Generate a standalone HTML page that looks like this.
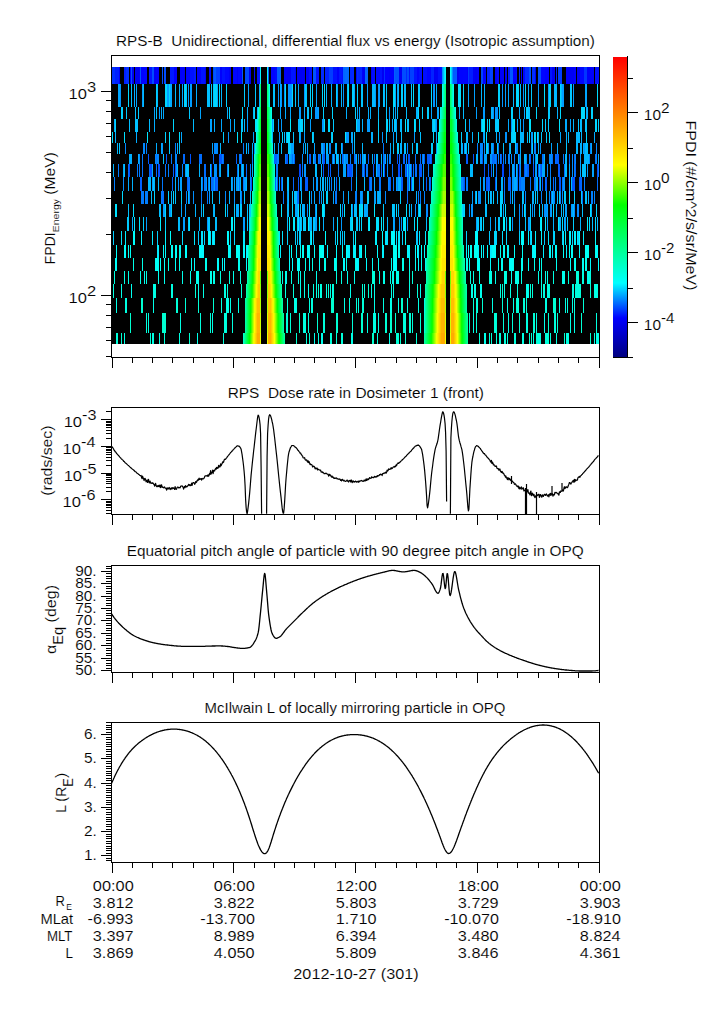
<!DOCTYPE html>
<html><head><meta charset="utf-8"><style>html,body{margin:0;padding:0;background:#fff;overflow:hidden}svg{display:block}text{font-family:"Liberation Sans",sans-serif}</style></head>
<body><svg width="725" height="1019" viewBox="0 0 725 1019">
<defs><linearGradient id="cb" x1="0" y1="57" x2="0" y2="357" gradientUnits="userSpaceOnUse"><stop offset="0.0000" stop-color="#ff0000"/><stop offset="0.1833" stop-color="#ff8000"/><stop offset="0.3600" stop-color="#ffff00"/><stop offset="0.4933" stop-color="#00ff00"/><stop offset="0.7533" stop-color="#00ffff"/><stop offset="0.8700" stop-color="#0000ff"/><stop offset="1.0000" stop-color="#000080"/></linearGradient></defs>
<rect width="725" height="1019" fill="#fff"/>
<g shape-rendering="crispEdges"><rect x="112" y="67" width="487" height="277" fill="#000"/>
<path fill="#0030ff" d="M112 67h3v17h-3z"/>
<path fill="#001fff" d="M115 67h4v17h-4zM124 67h2v17h-2zM325 67h4v17h-4z"/>
<path fill="#0000f9" d="M119 67h1v17h-1zM237 67h1v17h-1zM306 67h1v17h-1zM362 67h1v17h-1zM389 67h1v17h-1zM467 67h1v17h-1zM535 67h1v17h-1z"/>
<path fill="#002fff" d="M126 67h3v17h-3zM532 67h3v17h-3z"/>
<path fill="#0000ff" d="M130 67h1v17h-1zM385 67h4v17h-4zM545 67h4v17h-4zM574 67h2v17h-2z"/>
<path fill="#004fff" d="M131 67h1v17h-1zM175 164h1v13h-1zM384 164h1v13h-1z"/>
<path fill="#0000f1" d="M132 67h2v17h-2zM184 67h1v17h-1zM249 67h2v17h-2zM457 67h2v17h-2z"/>
<path fill="#0000f0" d="M135 67h4v17h-4z"/>
<path fill="#0000f8" d="M139 67h1v17h-1zM284 67h3v17h-3zM473 67h2v17h-2zM495 67h2v17h-2zM500 67h4v17h-4zM566 67h4v17h-4zM577 67h3v17h-3z"/>
<path fill="#0050ff" d="M140 67h1v17h-1z"/>
<path fill="#0002ff" d="M141 67h3v17h-3zM295 67h1v17h-1zM417 67h2v17h-2zM483 67h3v17h-3z"/>
<path fill="#0005ff" d="M144 67h3v17h-3zM187 67h3v17h-3zM254 67h1v17h-1z"/>
<path fill="#0013ff" d="M149 67h3v17h-3zM222 67h3v17h-3zM257 67h3v17h-3zM441 67h1v17h-1z"/>
<path fill="#004cff" d="M152 67h2v17h-2zM347 164h1v13h-1zM349 164h1v13h-1zM364 164h1v13h-1z"/>
<path fill="#0000f5" d="M154 67h2v17h-2zM371 67h1v17h-1zM399 67h3v17h-3z"/>
<path fill="#0000fc" d="M156 67h3v17h-3zM174 67h3v17h-3zM197 67h4v17h-4zM241 67h1v17h-1z"/>
<path fill="#0052ff" d="M162 67h1v17h-1zM529 67h2v17h-2zM369 177h1v14h-1z"/>
<path fill="#004bff" d="M164 67h2v17h-2zM407 67h2v17h-2zM150 164h2v13h-2zM406 164h1v13h-1zM597 164h1v13h-1z"/>
<path fill="#0018ff" d="M170 67h4v17h-4z"/>
<path fill="#0000fa" d="M180 67h4v17h-4zM209 67h2v17h-2z"/>
<path fill="#0001ff" d="M186 67h1v17h-1z"/>
<path fill="#0010ff" d="M190 67h4v17h-4zM316 67h3v17h-3zM333 67h4v17h-4z"/>
<path fill="#001bff" d="M194 67h2v17h-2z"/>
<path fill="#0012ff" d="M201 67h4v17h-4zM380 67h2v17h-2zM409 67h1v17h-1z"/>
<path fill="#0000f7" d="M205 67h1v17h-1z"/>
<path fill="#0046ff" d="M213 67h1v17h-1zM502 164h2v13h-2z"/>
<path fill="#0058ff" d="M214 67h2v17h-2zM510 67h3v17h-3zM424 154h1v10h-1zM487 177h1v14h-1zM495 177h1v14h-1z"/>
<path fill="#003eff" d="M216 67h4v17h-4zM558 67h4v17h-4z"/>
<path fill="#0000fd" d="M220 67h2v17h-2zM307 67h2v17h-2zM513 67h3v17h-3zM521 67h1v17h-1z"/>
<path fill="#0007ff" d="M225 67h4v17h-4zM238 67h3v17h-3zM376 67h4v17h-4zM497 67h2v17h-2zM523 67h2v17h-2zM580 67h4v17h-4z"/>
<path fill="#0000f6" d="M229 67h2v17h-2zM435 67h3v17h-3zM505 67h2v17h-2z"/>
<path fill="#0006ff" d="M233 67h4v17h-4z"/>
<path fill="#0057ff" d="M242 67h1v17h-1zM482 154h1v10h-1zM419 164h3v13h-3z"/>
<path fill="#0047ff" d="M245 67h4v17h-4zM299 164h2v13h-2z"/>
<path fill="#00f8ff" d="M260 67h1v17h-1zM267 67h1v17h-1zM574 231h1v14h-1zM229 245h2v13h-2zM356 258h3v13h-3z"/>
<path fill="#005cff" d="M268 67h1v17h-1zM277 67h3v17h-3zM294 154h1v10h-1zM305 177h3v14h-3zM426 177h1v14h-1z"/>
<path fill="#0004ff" d="M271 67h4v17h-4zM356 67h1v17h-1zM463 67h4v17h-4zM541 67h4v17h-4z"/>
<path fill="#0009ff" d="M275 67h2v17h-2z"/>
<path fill="#0063ff" d="M280 67h1v17h-1zM241 154h1v10h-1zM368 154h1v10h-1zM330 164h1v13h-1zM491 164h1v13h-1zM408 177h1v14h-1zM419 177h1v14h-1z"/>
<path fill="#0000f3" d="M287 67h4v17h-4zM297 67h5v17h-5zM552 67h3v17h-3z"/>
<path fill="#0014ff" d="M291 67h4v17h-4zM414 67h3v17h-3z"/>
<path fill="#0000f4" d="M302 67h3v17h-3zM382 67h2v17h-2zM570 67h4v17h-4z"/>
<path fill="#000dff" d="M309 67h3v17h-3zM342 67h1v17h-1zM423 67h4v17h-4z"/>
<path fill="#0053ff" d="M313 67h3v17h-3zM395 67h4v17h-4zM397 154h1v10h-1zM484 164h1v13h-1zM559 177h2v14h-2z"/>
<path fill="#0029ff" d="M321 67h3v17h-3z"/>
<path fill="#003dff" d="M329 67h4v17h-4z"/>
<path fill="#0000fb" d="M337 67h2v17h-2zM587 67h7v17h-7z"/>
<path fill="#0015ff" d="M339 67h3v17h-3zM550 67h2v17h-2z"/>
<path fill="#0065ff" d="M343 67h2v17h-2zM365 67h3v17h-3zM276 154h1v10h-1zM319 154h1v10h-1zM216 177h2v14h-2z"/>
<path fill="#006bff" d="M345 67h4v17h-4zM374 154h1v10h-1zM496 154h1v10h-1zM362 164h1v13h-1z"/>
<path fill="#0028ff" d="M350 67h4v17h-4z"/>
<path fill="#002eff" d="M357 67h1v17h-1z"/>
<path fill="#0024ff" d="M358 67h4v17h-4z"/>
<path fill="#0000f2" d="M363 67h2v17h-2zM434 67h1v17h-1zM475 67h2v17h-2z"/>
<path fill="#000aff" d="M372 67h3v17h-3z"/>
<path fill="#0031ff" d="M384 67h1v17h-1z"/>
<path fill="#0000fe" d="M390 67h4v17h-4zM477 67h2v17h-2z"/>
<path fill="#005eff" d="M394 67h1v17h-1zM542 177h1v14h-1zM546 177h1v14h-1z"/>
<path fill="#004dff" d="M402 67h4v17h-4zM129 164h1v13h-1zM398 164h2v13h-2z"/>
<path fill="#002bff" d="M406 67h1v17h-1zM525 67h4v17h-4z"/>
<path fill="#0040ff" d="M410 67h4v17h-4z"/>
<path fill="#000eff" d="M419 67h3v17h-3zM595 67h4v17h-4z"/>
<path fill="#0003ff" d="M427 67h4v17h-4zM459 67h4v17h-4z"/>
<path fill="#0022ff" d="M431 67h3v17h-3z"/>
<path fill="#000fff" d="M438 67h3v17h-3z"/>
<path fill="#0092ff" d="M442 67h1v17h-1zM452 67h1v17h-1zM284 84h1v23h-1zM493 107h1v12h-1zM234 191h1v13h-1zM360 191h1v13h-1z"/>
<path fill="#00bcff" d="M443 67h1v17h-1zM520 84h1v23h-1zM253 107h1v12h-1zM193 119h1v13h-1zM580 119h2v13h-2zM272 132h1v11h-1zM520 132h1v11h-1zM335 143h2v11h-2zM186 164h3v13h-3zM240 177h1v14h-1zM571 177h1v14h-1zM287 204h2v13h-2zM354 204h3v13h-3zM394 204h1v13h-1zM215 217h2v14h-2zM301 217h1v14h-1z"/>
<path fill="#00e7ff" d="M444 67h1v17h-1zM414 119h1v13h-1zM489 119h1v13h-1zM419 231h1v14h-1z"/>
<path fill="#00fff7" d="M445 67h1v17h-1zM450 67h1v17h-1zM128 245h1v13h-1zM314 245h1v13h-1zM503 245h1v13h-1zM595 245h2v13h-2zM297 258h2v13h-2zM372 258h1v13h-1zM501 258h2v13h-2zM582 258h1v13h-1z"/>
<path fill="#00d1ff" d="M451 67h1v17h-1zM498 84h1v23h-1zM355 107h1v12h-1zM591 107h2v12h-2zM378 119h1v13h-1zM419 119h1v13h-1zM165 132h1v11h-1zM532 143h1v11h-1zM181 191h1v13h-1zM249 217h1v14h-1zM299 231h2v14h-2zM519 231h1v14h-1z"/>
<path fill="#005bff" d="M453 67h4v17h-4zM488 164h1v13h-1zM509 164h1v13h-1zM538 164h1v13h-1zM558 164h2v13h-2z"/>
<path fill="#003aff" d="M468 67h1v17h-1z"/>
<path fill="#001cff" d="M469 67h4v17h-4z"/>
<path fill="#0043ff" d="M481 67h2v17h-2z"/>
<path fill="#0023ff" d="M487 67h3v17h-3z"/>
<path fill="#0041ff" d="M490 67h3v17h-3z"/>
<path fill="#001aff" d="M508 67h2v17h-2zM556 67h1v17h-1z"/>
<path fill="#0008ff" d="M516 67h1v17h-1z"/>
<path fill="#0021ff" d="M519 67h1v17h-1z"/>
<path fill="#004eff" d="M538 67h3v17h-3zM211 164h1v13h-1zM533 164h1v13h-1z"/>
<path fill="#0035ff" d="M584 67h3v17h-3z"/>
<path fill="#00a6ff" d="M118 84h2v23h-2zM136 84h1v23h-1zM298 84h1v23h-1zM395 107h1v12h-1zM221 119h1v13h-1zM491 143h2v11h-2zM598 154h1v10h-1z"/>
<path fill="#0097ff" d="M120 84h1v23h-1zM304 84h1v23h-1zM502 84h1v23h-1zM315 107h3v12h-3zM346 132h2v11h-2zM162 143h1v11h-1zM423 154h1v10h-1zM206 177h1v14h-1zM399 217h1v14h-1z"/>
<path fill="#00d5ff" d="M128 84h1v23h-1zM463 84h1v23h-1zM595 119h2v13h-2zM154 191h1v13h-1zM173 191h1v13h-1zM535 191h1v13h-1zM305 217h1v14h-1zM337 217h1v14h-1zM230 231h1v14h-1zM562 231h1v14h-1z"/>
<path fill="#00bfff" d="M131 84h1v23h-1zM528 107h2v12h-2zM518 154h1v10h-1zM210 164h1v13h-1zM409 177h1v14h-1zM175 191h1v13h-1zM159 204h2v13h-2zM480 217h1v14h-1z"/>
<path fill="#00aeff" d="M134 84h1v23h-1zM436 84h1v23h-1zM304 107h1v12h-1zM371 132h2v11h-2zM129 154h3v10h-3zM325 177h1v14h-1zM423 177h1v14h-1zM501 177h2v14h-2z"/>
<path fill="#009dff" d="M142 84h1v23h-1zM310 119h1v13h-1zM300 132h1v11h-1zM531 132h2v11h-2zM326 154h3v10h-3zM472 191h1v13h-1zM170 204h1v13h-1z"/>
<path fill="#00bdff" d="M143 84h1v23h-1zM244 119h1v13h-1zM298 119h2v13h-2zM401 119h1v13h-1zM246 143h1v11h-1zM461 143h1v11h-1zM364 154h1v10h-1zM246 177h1v14h-1zM288 191h1v13h-1zM301 191h1v13h-1zM490 191h1v13h-1zM178 217h2v14h-2zM506 217h1v14h-1z"/>
<path fill="#00d0ff" d="M156 84h1v23h-1zM226 84h1v23h-1zM336 84h1v23h-1zM121 107h2v12h-2zM323 107h1v12h-1zM598 119h1v13h-1zM461 132h1v11h-1zM465 143h1v11h-1zM486 143h2v11h-2zM400 191h1v13h-1zM488 191h1v13h-1zM247 217h1v14h-1zM573 217h1v14h-1zM287 231h1v14h-1zM295 231h1v14h-1zM530 231h1v14h-1z"/>
<path fill="#00bbff" d="M157 84h1v23h-1zM404 84h2v23h-2zM561 84h1v23h-1zM397 107h1v12h-1zM149 119h1v13h-1zM481 119h1v13h-1zM286 132h1v11h-1zM588 154h1v10h-1zM238 164h1v13h-1zM321 164h1v13h-1zM322 177h1v14h-1zM569 177h1v14h-1zM302 204h1v13h-1zM398 204h1v13h-1zM287 217h1v14h-1z"/>
<path fill="#00d8ff" d="M165 84h2v23h-2zM219 84h1v23h-1zM516 84h3v23h-3zM332 132h1v11h-1zM564 191h1v13h-1zM351 204h1v13h-1zM464 204h1v13h-1zM361 217h1v14h-1zM595 217h1v14h-1zM353 231h1v14h-1z"/>
<path fill="#00a5ff" d="M167 84h2v23h-2zM508 84h1v23h-1zM212 143h1v11h-1zM338 154h1v10h-1zM480 177h1v14h-1zM333 191h1v13h-1zM181 204h1v13h-1zM547 204h1v13h-1zM566 204h1v13h-1z"/>
<path fill="#00d7ff" d="M169 84h1v23h-1zM214 84h3v23h-3zM292 84h1v23h-1zM525 84h1v23h-1zM422 107h1v12h-1zM300 119h1v13h-1zM386 119h2v13h-2zM433 132h1v11h-1z"/>
<path fill="#00abff" d="M170 84h2v23h-2zM196 84h1v23h-1zM217 84h1v23h-1zM280 84h1v23h-1zM354 84h1v23h-1zM136 132h1v11h-1zM385 154h1v10h-1zM514 177h3v14h-3zM491 191h1v13h-1zM303 204h2v13h-2zM311 217h1v14h-1z"/>
<path fill="#00b7ff" d="M175 84h1v23h-1zM381 154h1v10h-1zM585 154h3v10h-3zM539 164h1v13h-1zM209 177h1v14h-1zM309 217h2v14h-2z"/>
<path fill="#00adff" d="M179 84h1v23h-1zM161 107h1v12h-1zM566 132h1v11h-1zM156 143h1v11h-1zM307 154h1v10h-1zM410 164h1v13h-1zM379 191h2v13h-2z"/>
<path fill="#00aaff" d="M182 84h1v23h-1zM357 107h1v12h-1zM508 119h1v13h-1zM517 119h1v13h-1zM565 119h2v13h-2zM594 132h1v11h-1zM252 143h1v11h-1zM322 143h1v11h-1zM557 143h1v11h-1zM138 154h1v10h-1zM152 164h1v13h-1zM227 204h1v13h-1zM295 204h3v13h-3z"/>
<path fill="#00d4ff" d="M184 84h2v23h-2zM312 84h1v23h-1zM229 107h1v12h-1zM511 107h2v12h-2zM301 119h2v13h-2zM312 132h1v11h-1zM513 132h3v11h-3zM168 191h1v13h-1zM326 191h2v13h-2zM367 191h1v13h-1zM493 191h1v13h-1zM596 204h1v13h-1zM303 217h1v14h-1zM204 231h1v14h-1z"/>
<path fill="#00c4ff" d="M186 84h1v23h-1zM347 84h1v23h-1zM126 107h1v12h-1zM156 107h1v12h-1zM257 107h1v12h-1zM585 119h2v13h-2zM354 132h1v11h-1zM393 143h1v11h-1zM566 143h1v11h-1zM163 154h1v10h-1zM383 164h1v13h-1zM582 164h2v13h-2zM153 177h1v14h-1zM412 177h2v14h-2zM250 191h1v13h-1zM565 191h1v13h-1z"/>
<path fill="#009cff" d="M188 84h1v23h-1zM190 84h2v23h-2zM375 84h1v23h-1zM538 84h1v23h-1zM299 107h2v12h-2zM278 119h1v13h-1zM304 132h1v11h-1zM303 143h1v11h-1zM483 177h2v14h-2zM550 177h1v14h-1zM287 191h1v13h-1zM361 191h1v13h-1zM183 217h2v14h-2zM243 217h1v14h-1zM299 217h1v14h-1z"/>
<path fill="#00c0ff" d="M207 84h3v23h-3zM273 84h2v23h-2zM299 132h1v11h-1zM420 132h1v11h-1zM404 143h2v11h-2zM151 191h1v13h-1z"/>
<path fill="#00c8ff" d="M211 84h1v23h-1zM570 84h2v23h-2zM241 119h2v13h-2zM394 119h2v13h-2zM331 132h1v11h-1zM316 204h1v13h-1zM188 217h1v14h-1zM313 217h2v14h-2zM525 217h1v14h-1zM567 217h1v14h-1zM297 231h1v14h-1z"/>
<path fill="#00c7ff" d="M213 84h1v23h-1zM255 84h1v23h-1zM305 84h2v23h-2zM531 84h1v23h-1zM189 107h1v12h-1zM386 107h1v12h-1zM545 119h1v13h-1zM548 119h1v13h-1zM412 143h1v11h-1zM530 204h1v13h-1zM208 217h2v14h-2zM198 231h1v14h-1zM416 231h2v14h-2z"/>
<path fill="#00b5ff" d="M221 84h1v23h-1zM384 84h1v23h-1zM481 84h1v23h-1zM396 132h1v11h-1zM581 132h1v11h-1zM372 154h1v10h-1zM199 164h1v13h-1zM376 164h1v13h-1zM158 177h1v14h-1zM378 191h1v13h-1zM537 191h1v13h-1z"/>
<path fill="#00cbff" d="M244 84h1v23h-1zM431 143h2v11h-2zM171 204h1v13h-1zM240 204h2v13h-2zM127 217h2v14h-2zM297 217h1v14h-1zM342 231h1v14h-1z"/>
<path fill="#00a4ff" d="M248 84h1v23h-1zM585 84h1v23h-1zM200 107h1v12h-1zM230 119h1v13h-1zM436 132h1v11h-1zM314 143h1v11h-1zM343 164h3v13h-3zM572 204h1v13h-1zM476 217h1v14h-1zM490 217h1v14h-1z"/>
<path fill="#00b1ff" d="M259 84h1v23h-1zM331 84h1v23h-1zM370 107h1v12h-1zM362 119h1v13h-1zM274 143h1v11h-1zM580 143h2v11h-2zM525 154h1v10h-1zM220 164h1v13h-1zM569 164h1v13h-1zM132 177h1v14h-1zM229 191h1v13h-1zM411 204h1v13h-1zM525 204h1v13h-1zM591 204h1v13h-1zM199 217h1v14h-1zM564 217h1v14h-1z"/>
<path fill="#00ff6e" d="M260 84h1v23h-1zM267 84h1v23h-1zM445 84h1v23h-1zM450 84h1v23h-1zM436 177h1v14h-1zM464 298h1v15h-1z"/>
<path fill="#00ffaf" d="M268 84h1v23h-1zM257 132h1v11h-1zM270 132h1v11h-1zM431 204h1v13h-1z"/>
<path fill="#00fff1" d="M269 84h1v23h-1zM442 84h1v23h-1zM453 84h1v23h-1zM179 245h1v13h-1zM319 245h3v13h-3zM238 258h2v13h-2zM421 258h1v13h-1zM556 258h1v13h-1zM575 258h1v13h-1zM131 284h1v14h-1z"/>
<path fill="#0094ff" d="M278 84h1v23h-1zM281 84h1v23h-1zM288 84h3v23h-3zM511 119h1v13h-1zM540 143h1v11h-1zM347 154h1v10h-1zM363 164h1v13h-1zM311 191h1v13h-1zM550 204h1v13h-1zM207 217h1v14h-1zM401 217h1v14h-1zM512 217h1v14h-1z"/>
<path fill="#00dbff" d="M285 84h1v23h-1zM348 84h1v23h-1zM478 132h1v11h-1zM310 231h1v14h-1z"/>
<path fill="#0099ff" d="M291 84h1v23h-1zM272 119h1v13h-1zM436 119h1v13h-1zM322 154h1v10h-1zM316 177h2v14h-2zM321 191h1v13h-1zM553 191h1v13h-1zM528 217h2v14h-2z"/>
<path fill="#00c5ff" d="M295 84h1v23h-1zM362 84h1v23h-1zM383 84h1v23h-1zM389 119h1v13h-1zM541 132h1v11h-1zM281 143h1v11h-1zM276 177h1v14h-1zM477 217h1v14h-1z"/>
<path fill="#00d3ff" d="M310 84h1v23h-1zM499 84h1v23h-1zM415 119h1v13h-1zM465 119h1v13h-1zM559 191h1v13h-1zM574 191h1v13h-1zM300 204h1v13h-1zM500 204h2v13h-2zM351 217h1v14h-1zM553 231h2v14h-2zM572 231h1v14h-1z"/>
<path fill="#00a1ff" d="M316 84h1v23h-1zM337 84h1v23h-1zM367 84h1v23h-1zM468 84h1v23h-1zM474 84h1v23h-1zM318 107h1v12h-1zM476 107h1v12h-1zM570 119h1v13h-1zM365 154h1v10h-1zM484 154h3v10h-3zM587 164h1v13h-1zM244 177h2v14h-2zM279 177h1v14h-1zM475 191h1v13h-1zM315 217h2v14h-2z"/>
<path fill="#00daff" d="M322 84h1v23h-1zM254 107h1v12h-1zM560 107h1v12h-1zM582 107h3v12h-3zM549 132h1v11h-1zM122 191h1v13h-1zM476 191h1v13h-1zM396 204h1v13h-1zM589 217h1v14h-1z"/>
<path fill="#00ddff" d="M324 84h1v23h-1zM458 84h3v23h-3zM282 132h1v11h-1zM569 191h1v13h-1zM225 204h1v13h-1zM340 204h1v13h-1zM182 231h1v14h-1zM396 231h1v14h-1z"/>
<path fill="#00b9ff" d="M326 84h1v23h-1zM372 84h3v23h-3zM378 107h1v12h-1zM484 132h1v11h-1zM326 143h2v11h-2zM356 154h1v10h-1zM524 154h1v10h-1zM470 164h3v13h-3zM556 204h1v13h-1zM561 204h1v13h-1z"/>
<path fill="#00b3ff" d="M341 84h1v23h-1zM484 84h1v23h-1zM557 107h1v12h-1zM586 107h2v12h-2zM520 119h1v13h-1zM472 132h1v11h-1zM496 132h1v11h-1zM521 132h3v11h-3zM544 154h1v10h-1zM493 164h1v13h-1zM238 177h1v14h-1zM300 177h1v14h-1zM334 177h1v14h-1zM219 191h1v13h-1zM546 191h1v13h-1zM213 204h1v13h-1zM323 217h1v14h-1zM495 217h1v14h-1zM580 217h1v14h-1z"/>
<path fill="#0093ff" d="M343 84h1v23h-1zM378 84h1v23h-1zM389 107h1v12h-1zM495 107h3v12h-3zM247 119h1v13h-1zM523 119h1v13h-1zM505 132h2v11h-2zM488 143h1v11h-1zM358 154h1v10h-1zM490 154h2v10h-2zM214 164h2v13h-2zM512 177h1v14h-1zM519 204h1v13h-1z"/>
<path fill="#00cfff" d="M352 84h2v23h-2zM357 84h1v23h-1zM401 84h2v23h-2zM304 119h1v13h-1zM323 191h1v13h-1zM203 204h1v13h-1zM359 217h1v14h-1zM157 231h1v14h-1zM578 231h1v14h-1z"/>
<path fill="#00c1ff" d="M361 84h1v23h-1zM135 107h1v12h-1zM135 119h3v13h-3zM432 119h1v13h-1zM313 132h1v11h-1zM341 143h1v11h-1zM536 154h2v10h-2zM409 204h1v13h-1zM582 204h1v13h-1zM592 217h1v14h-1z"/>
<path fill="#00a0ff" d="M379 84h1v23h-1zM548 84h1v23h-1zM592 164h2v13h-2zM180 177h2v14h-2z"/>
<path fill="#00c9ff" d="M386 84h1v23h-1zM418 84h2v23h-2zM495 119h3v13h-3zM386 132h1v11h-1zM119 143h1v11h-1zM288 143h3v11h-3zM512 191h1v13h-1zM522 191h1v13h-1zM234 204h1v13h-1zM392 204h2v13h-2z"/>
<path fill="#00deff" d="M393 84h2v23h-2zM413 84h1v23h-1zM431 84h1v23h-1zM544 84h1v23h-1zM324 119h1v13h-1zM309 191h1v13h-1zM502 231h1v14h-1z"/>
<path fill="#00a9ff" d="M395 84h1v23h-1zM285 107h1v12h-1zM123 164h1v13h-1zM282 177h1v14h-1zM240 191h1v13h-1zM314 191h1v13h-1zM503 204h1v13h-1zM534 204h1v13h-1z"/>
<path fill="#00a2ff" d="M397 84h1v23h-1zM210 119h2v13h-2zM278 143h1v11h-1zM551 143h1v11h-1zM320 154h1v10h-1zM163 204h2v13h-2z"/>
<path fill="#00b6ff" d="M398 84h1v23h-1zM513 84h1v23h-1zM573 119h1v13h-1zM284 132h1v11h-1zM117 143h1v11h-1zM576 143h2v11h-2zM313 154h1v10h-1zM584 154h1v10h-1zM177 164h1v13h-1zM339 177h1v14h-1zM536 177h1v14h-1zM485 191h1v13h-1zM523 191h1v13h-1z"/>
<path fill="#00ccff" d="M411 84h1v23h-1zM223 132h1v11h-1zM535 132h1v11h-1zM497 143h1v11h-1zM244 191h1v13h-1zM581 191h1v13h-1zM324 204h1v13h-1zM514 204h1v13h-1zM143 217h1v14h-1zM481 217h1v14h-1zM335 231h1v14h-1z"/>
<path fill="#0095ff" d="M433 84h2v23h-2zM279 132h1v11h-1zM499 132h1v11h-1zM363 154h1v10h-1zM304 164h2v13h-2zM209 191h1v13h-1zM522 204h1v13h-1z"/>
<path fill="#00ffc5" d="M443 84h1v23h-1zM452 84h1v23h-1zM250 217h1v14h-1zM277 217h1v14h-1zM429 217h1v14h-1zM462 217h1v14h-1z"/>
<path fill="#00ff99" d="M444 84h1v23h-1zM451 84h1v23h-1zM259 107h1v12h-1zM269 107h1v12h-1z"/>
<path fill="#009bff" d="M505 84h1v23h-1zM159 107h1v12h-1zM281 119h1v13h-1zM469 119h1v13h-1zM321 143h1v11h-1zM436 143h1v11h-1zM356 164h1v13h-1zM520 164h1v13h-1zM536 164h1v13h-1zM236 177h2v14h-2zM343 191h1v13h-1zM571 204h1v13h-1zM146 217h1v14h-1zM519 217h1v14h-1z"/>
<path fill="#0098ff" d="M523 84h1v23h-1zM348 132h1v11h-1zM382 132h1v11h-1zM254 143h1v11h-1zM329 143h1v11h-1zM584 143h1v11h-1zM176 164h1v13h-1zM185 164h1v13h-1zM241 164h1v13h-1zM423 164h1v13h-1zM471 204h2v13h-2z"/>
<path fill="#00afff" d="M528 84h1v23h-1zM346 107h1v12h-1zM368 107h1v12h-1zM114 119h1v13h-1zM392 119h1v13h-1zM538 132h1v11h-1zM466 143h1v11h-1zM520 143h1v11h-1zM583 143h1v11h-1zM344 154h1v10h-1zM362 154h1v10h-1zM327 177h1v14h-1zM496 177h1v14h-1zM588 191h1v13h-1zM169 204h1v13h-1zM201 204h1v13h-1z"/>
<path fill="#00d6ff" d="M549 84h2v23h-2zM560 84h1v23h-1zM332 107h1v12h-1zM536 107h1v12h-1zM115 119h1v13h-1zM173 119h1v13h-1zM273 119h1v13h-1zM433 119h2v13h-2zM487 119h1v13h-1zM512 119h2v13h-2zM542 119h1v13h-1zM586 132h1v11h-1zM292 191h1v13h-1zM234 231h1v14h-1zM494 231h3v14h-3z"/>
<path fill="#00b8ff" d="M554 84h3v23h-3zM568 132h1v11h-1zM576 132h3v11h-3zM362 143h1v11h-1zM565 154h2v10h-2zM148 177h3v14h-3zM418 204h1v13h-1zM387 217h1v14h-1z"/>
<path fill="#009fff" d="M562 84h2v23h-2zM573 84h1v23h-1zM253 132h1v11h-1zM393 132h1v11h-1zM293 154h1v10h-1zM580 154h1v10h-1zM214 177h1v14h-1zM234 177h1v14h-1zM547 217h1v14h-1zM565 217h1v14h-1z"/>
<path fill="#00a8ff" d="M586 84h1v23h-1zM290 107h1v12h-1zM437 107h2v12h-2zM459 107h1v12h-1zM524 107h1v12h-1zM181 132h1v11h-1zM351 132h2v11h-2zM161 143h1v11h-1zM307 143h1v11h-1zM462 143h1v11h-1zM340 154h1v10h-1zM128 177h1v14h-1zM377 191h1v13h-1zM393 217h1v14h-1z"/>
<path fill="#00dcff" d="M597 84h1v23h-1zM242 107h1v12h-1zM311 107h1v12h-1zM418 107h1v12h-1zM581 107h1v12h-1zM179 132h1v11h-1zM165 204h1v13h-1zM361 204h1v13h-1z"/>
<path fill="#00cdff" d="M138 107h1v12h-1zM378 132h1v11h-1zM515 143h1v11h-1zM500 191h3v13h-3zM249 204h2v13h-2zM165 217h1v14h-1zM466 231h1v14h-1z"/>
<path fill="#00a3ff" d="M154 107h1v12h-1zM359 107h1v12h-1zM431 107h1v12h-1zM291 143h3v11h-3zM290 154h1v10h-1zM243 164h1v13h-1zM396 177h1v14h-1zM375 191h1v13h-1zM551 204h1v13h-1zM565 204h1v13h-1z"/>
<path fill="#00a7ff" d="M163 107h1v12h-1zM280 107h1v12h-1zM357 119h3v13h-3zM560 132h1v11h-1zM390 143h1v11h-1zM512 164h2v13h-2zM542 164h3v13h-3zM580 164h1v13h-1zM365 204h3v13h-3zM333 217h1v14h-1z"/>
<path fill="#00b0ff" d="M227 107h1v12h-1zM115 132h1v11h-1zM252 164h1v13h-1zM409 164h1v13h-1zM154 177h1v14h-1zM201 177h1v14h-1zM398 177h3v14h-3zM348 191h1v13h-1z"/>
<path fill="#00acff" d="M247 107h1v12h-1zM519 107h1v12h-1zM154 119h1v13h-1zM214 119h1v13h-1zM396 119h1v13h-1zM591 143h1v11h-1zM236 204h3v13h-3zM364 204h1v13h-1zM132 217h1v14h-1z"/>
<path fill="#00ffed" d="M258 107h1v12h-1zM271 107h1v12h-1zM440 107h1v12h-1zM455 107h1v12h-1zM325 258h1v13h-1zM158 271h1v13h-1zM316 271h1v13h-1zM347 271h1v13h-1zM541 271h1v13h-1zM564 271h1v13h-1zM332 284h1v14h-1z"/>
<path fill="#00ff45" d="M260 107h1v12h-1zM267 107h1v12h-1zM445 107h1v12h-1zM450 107h1v12h-1z"/>
<path fill="#00ff6f" d="M268 107h1v12h-1zM429 271h1v13h-1z"/>
<path fill="#00ffc3" d="M270 107h1v12h-1z"/>
<path fill="#00c2ff" d="M307 107h2v12h-2zM407 119h2v13h-2zM228 164h1v13h-1zM242 164h1v13h-1zM584 164h2v13h-2zM287 177h2v14h-2zM356 177h1v14h-1zM585 191h2v13h-2zM128 204h1v13h-1z"/>
<path fill="#00c3ff" d="M393 107h1v12h-1zM578 119h1v13h-1zM401 132h1v11h-1zM510 143h1v11h-1zM336 154h2v10h-2zM124 164h1v13h-1zM407 164h1v13h-1zM212 191h1v13h-1zM247 204h1v13h-1z"/>
<path fill="#00beff" d="M406 107h1v12h-1zM129 119h1v13h-1zM527 132h1v11h-1zM579 132h1v11h-1zM503 143h1v11h-1zM585 143h3v11h-3zM333 154h1v10h-1zM315 164h2v13h-2zM516 164h1v13h-1zM565 164h2v13h-2zM364 177h1v14h-1zM188 191h1v13h-1zM294 191h3v13h-3zM552 191h1v13h-1zM485 204h2v13h-2zM563 204h1v13h-1z"/>
<path fill="#00b4ff" d="M416 107h2v12h-2zM491 107h2v12h-2zM234 119h1v13h-1zM435 119h1v13h-1zM220 143h1v11h-1zM289 154h1v10h-1zM476 154h2v10h-2zM520 154h1v10h-1zM113 164h1v13h-1zM175 177h1v14h-1zM323 177h1v14h-1zM537 177h1v14h-1zM171 191h1v13h-1zM416 191h1v13h-1zM559 217h2v14h-2z"/>
<path fill="#00ceff" d="M427 107h2v12h-2zM511 132h2v11h-2zM397 143h2v11h-2zM368 191h1v13h-1zM360 204h1v13h-1zM420 204h1v13h-1zM350 217h1v14h-1zM478 217h1v14h-1zM113 231h1v14h-1zM340 231h1v14h-1zM544 231h1v14h-1z"/>
<path fill="#00ffcb" d="M441 107h1v12h-1zM454 107h1v12h-1z"/>
<path fill="#00ffaa" d="M442 107h1v12h-1zM453 107h1v12h-1zM245 298h1v15h-1zM282 298h1v15h-1zM425 298h1v15h-1zM466 298h1v15h-1z"/>
<path fill="#00ff88" d="M443 107h1v12h-1zM452 107h1v12h-1z"/>
<path fill="#00ff67" d="M444 107h1v12h-1zM451 107h1v12h-1zM282 333h1v11h-1zM465 333h1v11h-1z"/>
<path fill="#00baff" d="M463 107h1v12h-1zM400 119h1v13h-1zM466 132h2v11h-2zM305 143h1v11h-1zM354 143h1v11h-1zM320 177h1v14h-1zM540 177h1v14h-1zM557 191h1v13h-1zM214 204h1v13h-1zM573 204h1v13h-1zM426 217h1v14h-1zM597 217h1v14h-1z"/>
<path fill="#009aff" d="M483 107h2v12h-2zM322 119h2v13h-2zM367 119h3v13h-3zM414 132h1v11h-1zM535 164h1v13h-1zM152 177h1v14h-1zM341 217h1v14h-1zM394 217h1v14h-1zM407 217h1v14h-1z"/>
<path fill="#00c6ff" d="M499 107h1v12h-1zM293 132h1v11h-1zM179 143h1v11h-1zM468 143h1v11h-1zM542 204h1v13h-1zM356 217h2v14h-2zM498 217h2v14h-2zM313 231h1v14h-1z"/>
<path fill="#00d2ff" d="M526 107h2v12h-2zM498 119h1v13h-1zM300 217h1v14h-1zM530 217h1v14h-1zM344 231h1v14h-1z"/>
<path fill="#00caff" d="M548 107h2v12h-2zM333 119h1v13h-1zM546 132h1v11h-1zM169 143h1v11h-1zM416 143h2v11h-2zM383 204h1v13h-1zM463 204h1v13h-1zM304 217h1v14h-1zM489 231h1v14h-1z"/>
<path fill="#00eaff" d="M255 119h2v13h-2zM290 119h1v13h-1zM405 119h1v13h-1zM298 217h1v14h-1zM398 231h2v14h-2z"/>
<path fill="#00ffe8" d="M257 119h1v13h-1zM271 119h1v13h-1zM439 119h1v13h-1zM456 119h1v13h-1zM142 258h1v13h-1zM336 258h1v13h-1zM355 258h1v13h-1zM213 271h2v13h-2zM473 271h1v13h-1zM121 284h1v14h-1zM153 284h2v14h-2zM230 298h1v15h-1zM295 298h1v15h-1zM544 313h1v20h-1zM574 313h1v20h-1z"/>
<path fill="#00ffa8" d="M258 119h1v13h-1zM429 231h1v14h-1z"/>
<path fill="#00ff69" d="M259 119h1v13h-1zM247 298h1v15h-1zM280 298h1v15h-1z"/>
<path fill="#00ff29" d="M260 119h1v13h-1zM267 119h1v13h-1zM444 119h2v13h-2zM450 119h2v13h-2zM249 298h1v15h-1zM278 298h1v15h-1zM430 313h1v20h-1z"/>
<path fill="#00ff59" d="M268 119h1v13h-1zM430 271h1v13h-1zM462 271h1v13h-1zM427 333h1v11h-1z"/>
<path fill="#00ff89" d="M269 119h1v13h-1zM466 313h1v20h-1zM425 333h1v11h-1z"/>
<path fill="#00ffb8" d="M270 119h1v13h-1z"/>
<path fill="#00dfff" d="M328 119h2v13h-2zM529 132h1v11h-1zM362 204h1v13h-1zM462 204h1v13h-1zM505 204h1v13h-1zM553 204h1v13h-1z"/>
<path fill="#00d9ff" d="M356 119h1v13h-1zM483 217h1v14h-1zM402 231h1v14h-1zM506 231h1v14h-1z"/>
<path fill="#00ffc2" d="M440 119h1v13h-1zM455 119h1v13h-1z"/>
<path fill="#00ff9c" d="M441 119h1v13h-1zM454 119h1v13h-1zM427 271h1v13h-1z"/>
<path fill="#00ff75" d="M442 119h1v13h-1zM453 119h1v13h-1zM464 284h1v14h-1z"/>
<path fill="#00ff4f" d="M443 119h1v13h-1zM452 119h1v13h-1zM251 258h1v13h-1zM276 258h1v13h-1z"/>
<path fill="#00e4ff" d="M482 119h3v13h-3zM559 119h1v13h-1zM112 132h1v11h-1zM419 204h1v13h-1zM368 217h1v14h-1zM540 217h1v14h-1zM282 231h1v14h-1zM577 231h1v14h-1z"/>
<path fill="#00e8ff" d="M514 119h1v13h-1zM147 132h1v11h-1zM281 204h1v13h-1zM309 204h1v13h-1zM322 204h2v13h-2zM374 204h1v13h-1zM352 217h1v14h-1zM337 231h1v14h-1z"/>
<path fill="#00e2ff" d="M529 119h2v13h-2zM241 132h1v11h-1zM115 204h2v13h-2zM385 231h3v14h-3zM531 231h1v14h-1z"/>
<path fill="#00e0ff" d="M124 132h1v11h-1zM133 204h1v13h-1zM524 204h1v13h-1zM383 217h1v14h-1zM562 217h1v14h-1zM212 231h1v14h-1z"/>
<path fill="#00e1ff" d="M169 132h1v11h-1zM287 132h3v11h-3zM534 132h1v11h-1zM406 204h1v13h-1zM590 204h1v13h-1zM376 217h3v14h-3zM121 231h1v14h-1z"/>
<path fill="#0096ff" d="M228 132h1v11h-1zM483 132h1v11h-1zM291 154h1v10h-1zM387 154h1v10h-1zM480 154h2v10h-2zM232 177h1v14h-1zM513 177h1v14h-1zM480 191h1v13h-1zM532 204h1v13h-1z"/>
<path fill="#00e6ff" d="M237 132h1v11h-1zM210 231h1v14h-1zM425 231h1v14h-1z"/>
<path fill="#00ffe4" d="M256 132h1v11h-1zM271 132h1v11h-1zM438 132h1v11h-1zM457 132h1v11h-1zM282 271h1v13h-1zM383 271h1v13h-1zM470 271h1v13h-1zM479 271h1v13h-1zM490 271h1v13h-1zM504 271h3v13h-3zM224 284h2v14h-2zM316 284h1v14h-1zM330 284h1v14h-1zM594 284h4v14h-4zM492 298h1v15h-1zM518 298h1v15h-1zM545 298h2v15h-2zM536 313h1v20h-1zM318 333h1v11h-1zM522 333h2v11h-2z"/>
<path fill="#00ff7b" d="M258 132h1v11h-1zM269 132h1v11h-1zM441 132h1v11h-1zM454 132h1v11h-1zM254 191h1v13h-1zM273 191h1v13h-1z"/>
<path fill="#00ff46" d="M259 132h1v11h-1zM268 132h1v11h-1z"/>
<path fill="#00ff12" d="M260 132h1v11h-1zM267 132h1v11h-1zM444 132h2v11h-2zM450 132h2v11h-2zM430 333h1v11h-1z"/>
<path fill="#00e9ff" d="M345 132h1v11h-1zM486 132h1v11h-1zM194 231h1v14h-1zM243 231h1v14h-1z"/>
<path fill="#00ffc1" d="M439 132h1v11h-1zM456 132h1v11h-1z"/>
<path fill="#00ff9e" d="M440 132h1v11h-1zM455 132h1v11h-1zM458 164h1v13h-1z"/>
<path fill="#00ff58" d="M442 132h1v11h-1zM453 132h1v11h-1zM456 177h1v14h-1zM463 284h1v14h-1z"/>
<path fill="#00ff35" d="M443 132h1v11h-1zM452 132h1v11h-1zM432 258h1v13h-1z"/>
<path fill="#00e3ff" d="M537 132h1v11h-1zM292 204h1v13h-1zM298 204h1v13h-1zM539 204h1v13h-1zM189 217h1v14h-1zM414 217h1v14h-1zM545 217h1v14h-1zM201 231h2v14h-2zM548 231h1v14h-1z"/>
<path fill="#0087ff" d="M125 143h1v11h-1zM484 143h1v11h-1zM516 143h2v11h-2zM285 154h1v10h-1zM385 191h1v13h-1zM525 191h1v13h-1z"/>
<path fill="#0089ff" d="M143 143h2v11h-2zM214 143h4v11h-4zM352 143h1v11h-1zM175 154h2v10h-2zM240 154h1v10h-1zM498 154h1v10h-1zM505 154h1v10h-1zM387 164h1v13h-1zM123 177h1v14h-1zM342 204h1v13h-1z"/>
<path fill="#0081ff" d="M146 143h1v11h-1zM330 143h1v11h-1zM477 143h1v11h-1zM503 154h1v10h-1zM182 164h1v13h-1zM208 177h1v14h-1zM521 177h4v14h-4z"/>
<path fill="#007bff" d="M175 143h1v11h-1zM493 143h1v11h-1zM171 154h1v10h-1zM314 154h2v10h-2zM574 164h1v13h-1zM204 177h2v14h-2z"/>
<path fill="#00b2ff" d="M177 143h1v11h-1zM400 143h2v11h-2zM538 143h1v11h-1zM376 154h2v10h-2zM231 177h1v14h-1zM374 177h1v14h-1zM497 191h1v13h-1zM532 191h2v13h-2zM195 204h1v13h-1zM553 217h1v14h-1z"/>
<path fill="#007cff" d="M243 143h1v11h-1zM383 143h1v11h-1zM118 164h1v13h-1zM139 164h1v13h-1zM514 164h1v13h-1zM370 177h2v14h-2zM466 177h2v14h-2zM504 191h1v13h-1z"/>
<path fill="#009eff" d="M248 143h1v11h-1zM509 143h1v11h-1zM313 177h1v14h-1zM374 191h1v13h-1zM185 204h1v13h-1zM244 217h1v14h-1z"/>
<path fill="#00ffdf" d="M255 143h1v11h-1zM272 143h1v11h-1zM437 143h1v11h-1zM458 143h1v11h-1zM589 271h1v13h-1zM113 284h1v14h-1zM285 284h1v14h-1zM313 284h1v14h-1zM148 313h1v20h-1zM224 313h3v20h-3zM232 313h1v20h-1zM527 313h1v20h-1zM596 313h1v20h-1zM306 333h1v11h-1z"/>
<path fill="#00ffb3" d="M256 143h1v11h-1zM271 143h1v11h-1zM459 177h1v14h-1zM247 271h1v13h-1zM280 271h1v13h-1zM426 271h1v13h-1zM465 271h1v13h-1z"/>
<path fill="#00ff86" d="M257 143h1v11h-1zM270 143h1v11h-1zM428 271h1v13h-1z"/>
<path fill="#00ff5a" d="M258 143h1v11h-1zM269 143h1v11h-1z"/>
<path fill="#00ff2d" d="M259 143h1v11h-1zM268 143h1v11h-1zM280 333h1v11h-1zM463 333h1v11h-1z"/>
<path fill="#00ff01" d="M260 143h1v11h-1zM267 143h1v11h-1zM444 143h2v11h-2zM450 143h2v11h-2zM269 164h1v13h-1zM436 231h1v14h-1zM432 298h1v15h-1z"/>
<path fill="#0080ff" d="M323 143h2v11h-2zM407 143h1v11h-1zM227 164h1v13h-1zM397 177h1v14h-1zM355 191h2v13h-2zM420 191h1v13h-1zM541 191h1v13h-1zM551 191h1v13h-1zM591 191h2v13h-2z"/>
<path fill="#0082ff" d="M342 143h1v11h-1zM495 154h1v10h-1zM331 177h1v14h-1zM189 191h1v13h-1z"/>
<path fill="#00ffc0" d="M438 143h1v11h-1zM457 143h1v11h-1zM436 154h1v10h-1zM249 231h1v14h-1zM278 231h1v14h-1zM428 231h1v14h-1zM462 231h1v14h-1z"/>
<path fill="#00ffa0" d="M439 143h1v11h-1zM456 143h1v11h-1zM434 177h1v14h-1zM251 217h1v14h-1zM276 217h1v14h-1z"/>
<path fill="#00ff80" d="M440 143h1v11h-1zM455 143h1v11h-1zM427 284h1v14h-1z"/>
<path fill="#00ff60" d="M441 143h1v11h-1zM454 143h1v11h-1zM433 217h1v14h-1zM430 258h1v13h-1zM461 258h1v13h-1z"/>
<path fill="#00ff40" d="M442 143h1v11h-1zM453 143h1v11h-1zM457 204h1v13h-1zM459 245h1v13h-1z"/>
<path fill="#00ff21" d="M443 143h1v11h-1zM452 143h1v11h-1zM457 217h1v14h-1zM458 245h1v13h-1z"/>
<path fill="#0090ff" d="M464 143h1v11h-1zM139 154h1v10h-1zM511 154h1v10h-1zM572 164h1v13h-1z"/>
<path fill="#0084ff" d="M480 143h3v11h-3zM590 143h1v11h-1zM277 154h2v10h-2zM500 154h1v10h-1zM388 177h1v14h-1zM407 177h1v14h-1zM319 191h1v13h-1zM594 191h1v13h-1z"/>
<path fill="#007aff" d="M498 143h1v11h-1zM250 164h1v13h-1zM534 177h2v14h-2zM141 191h3v13h-3zM418 191h1v13h-1z"/>
<path fill="#008fff" d="M531 143h1v11h-1zM345 154h2v10h-2zM563 177h2v14h-2zM193 191h1v13h-1zM478 191h1v13h-1zM315 204h1v13h-1zM544 204h3v13h-3z"/>
<path fill="#0083ff" d="M534 143h2v11h-2zM222 154h1v10h-1zM318 154h1v10h-1zM514 191h1v13h-1z"/>
<path fill="#008aff" d="M596 143h1v11h-1zM535 154h1v10h-1zM575 154h1v10h-1zM216 164h1v13h-1zM301 177h1v14h-1zM562 191h1v13h-1zM352 204h1v13h-1zM426 204h2v13h-2zM574 204h1v13h-1zM577 204h2v13h-2z"/>
<path fill="#0079ff" d="M142 154h1v10h-1zM252 154h1v10h-1zM355 154h1v10h-1zM137 164h1v13h-1zM243 177h1v14h-1zM510 191h1v13h-1z"/>
<path fill="#0059ff" d="M148 154h1v10h-1zM286 154h2v10h-2zM524 164h1v13h-1zM277 177h1v14h-1z"/>
<path fill="#0085ff" d="M155 154h1v10h-1zM429 177h1v14h-1zM362 191h1v13h-1z"/>
<path fill="#0074ff" d="M156 154h1v10h-1zM415 154h1v10h-1zM422 154h1v10h-1zM514 154h1v10h-1zM380 177h1v14h-1z"/>
<path fill="#0086ff" d="M157 154h2v10h-2zM406 154h1v10h-1zM186 191h1v13h-1zM225 191h1v13h-1z"/>
<path fill="#005dff" d="M166 154h1v10h-1zM373 164h1v13h-1zM430 177h1v14h-1z"/>
<path fill="#0069ff" d="M183 154h2v10h-2zM223 154h1v10h-1zM360 154h1v10h-1zM381 164h1v13h-1zM293 177h1v14h-1zM488 177h1v14h-1z"/>
<path fill="#0054ff" d="M190 154h1v10h-1zM323 154h2v10h-2zM408 154h2v10h-2zM431 154h1v10h-1zM473 154h1v10h-1zM501 154h1v10h-1zM328 164h1v13h-1zM215 177h1v14h-1zM251 177h1v14h-1zM579 177h1v14h-1z"/>
<path fill="#006dff" d="M199 154h3v10h-3zM493 154h1v10h-1zM552 154h1v10h-1zM555 154h1v10h-1zM246 164h1v13h-1zM530 177h1v14h-1zM553 177h1v14h-1zM597 177h1v14h-1zM298 191h1v13h-1zM407 191h1v13h-1z"/>
<path fill="#006eff" d="M213 154h1v10h-1zM354 154h1v10h-1zM128 164h1v13h-1zM142 164h1v13h-1zM351 177h1v14h-1zM562 177h1v14h-1z"/>
<path fill="#0056ff" d="M219 154h3v10h-3zM541 164h1v13h-1zM281 177h1v14h-1zM464 177h1v14h-1z"/>
<path fill="#005fff" d="M236 154h1v10h-1zM411 164h1v13h-1zM187 177h1v14h-1z"/>
<path fill="#0078ff" d="M239 154h1v10h-1zM383 154h2v10h-2zM162 177h1v14h-1zM202 177h1v14h-1zM213 177h1v14h-1zM239 177h1v14h-1zM379 177h1v14h-1zM389 177h1v14h-1z"/>
<path fill="#00ffdb" d="M254 154h1v10h-1zM273 154h1v10h-1zM435 154h1v10h-1zM459 154h1v10h-1zM372 271h3v13h-3zM409 271h1v13h-1zM241 284h1v14h-1zM543 284h1v14h-1zM579 284h2v14h-2zM412 313h1v20h-1zM116 333h2v11h-2zM330 333h2v11h-2zM491 333h1v11h-1z"/>
<path fill="#00ffab" d="M255 154h1v10h-1zM272 154h1v10h-1zM430 217h1v14h-1z"/>
<path fill="#00ff7a" d="M256 154h1v10h-1zM271 154h1v10h-1zM427 298h1v15h-1z"/>
<path fill="#00ff4a" d="M257 154h1v10h-1zM270 154h1v10h-1zM275 245h1v13h-1zM432 245h1v13h-1zM431 258h1v13h-1zM281 333h1v11h-1zM464 333h1v11h-1z"/>
<path fill="#00ff1a" d="M258 154h1v10h-1zM269 154h1v10h-1z"/>
<path fill="#2bff00" d="M259 154h2v10h-2zM267 154h2v10h-2zM444 154h2v10h-2zM450 154h2v10h-2z"/>
<path fill="#0067ff" d="M274 154h2v10h-2zM574 154h1v10h-1zM205 164h1v13h-1zM392 164h1v13h-1z"/>
<path fill="#0070ff" d="M292 154h1v10h-1zM415 164h2v13h-2zM564 164h1v13h-1z"/>
<path fill="#008dff" d="M302 154h1v10h-1zM589 154h1v10h-1zM219 164h1v13h-1zM178 177h1v14h-1z"/>
<path fill="#0055ff" d="M309 154h1v10h-1zM486 177h1v14h-1zM489 177h1v14h-1zM572 177h3v14h-3z"/>
<path fill="#0062ff" d="M310 154h1v10h-1zM401 177h1v14h-1zM509 177h2v14h-2z"/>
<path fill="#0076ff" d="M332 154h1v10h-1zM366 164h2v13h-2zM463 177h1v14h-1zM283 191h1v13h-1z"/>
<path fill="#007eff" d="M334 154h1v10h-1zM168 164h1v13h-1zM276 164h2v13h-2zM145 191h3v13h-3zM336 191h1v13h-1zM424 191h1v13h-1z"/>
<path fill="#0072ff" d="M342 154h2v10h-2zM542 154h2v10h-2zM595 154h1v10h-1zM165 164h1v13h-1zM237 164h1v13h-1zM405 164h1v13h-1zM393 177h1v14h-1z"/>
<path fill="#007dff" d="M350 154h1v10h-1zM430 154h1v10h-1zM352 164h1v13h-1zM377 164h3v13h-3zM428 164h1v13h-1zM598 164h1v13h-1zM114 177h1v14h-1zM555 177h1v14h-1zM584 177h1v14h-1zM161 191h1v13h-1zM241 191h1v13h-1z"/>
<path fill="#0088ff" d="M389 154h2v10h-2zM508 154h2v10h-2zM533 154h1v10h-1zM596 154h1v10h-1zM547 164h1v13h-1zM250 177h1v14h-1zM549 191h1v13h-1z"/>
<path fill="#006fff" d="M399 154h1v10h-1zM494 154h1v10h-1zM204 164h1v13h-1zM211 177h2v14h-2zM162 191h2v13h-2zM297 191h1v13h-1z"/>
<path fill="#0064ff" d="M403 154h2v10h-2zM173 164h1v13h-1zM401 164h1v13h-1zM575 164h1v13h-1zM539 177h1v14h-1z"/>
<path fill="#006cff" d="M420 154h1v10h-1zM569 154h1v10h-1zM413 164h1v13h-1zM496 164h1v13h-1zM582 191h1v13h-1z"/>
<path fill="#005aff" d="M427 154h3v10h-3zM466 154h1v10h-1zM530 154h1v10h-1zM298 177h1v14h-1zM390 177h1v14h-1zM402 177h1v14h-1zM411 177h1v14h-1z"/>
<path fill="#00ffa5" d="M437 154h1v10h-1zM428 245h1v13h-1zM245 313h1v20h-1zM283 313h1v20h-1zM425 313h1v20h-1zM467 313h1v20h-1z"/>
<path fill="#00ff8b" d="M438 154h1v10h-1z"/>
<path fill="#00ff70" d="M439 154h1v10h-1zM256 164h1v13h-1zM437 164h1v13h-1zM276 245h1v13h-1zM248 284h1v14h-1zM279 284h1v14h-1z"/>
<path fill="#00ff55" d="M440 154h1v10h-1zM437 177h1v14h-1zM254 204h1v13h-1zM273 204h1v13h-1zM251 245h1v13h-1z"/>
<path fill="#00ff3a" d="M441 154h1v10h-1zM455 177h1v14h-1zM458 231h1v14h-1zM461 271h1v13h-1zM430 284h1v14h-1z"/>
<path fill="#00ff1f" d="M442 154h1v10h-1zM433 258h1v13h-1zM461 284h1v14h-1z"/>
<path fill="#00ff05" d="M443 154h1v10h-1zM249 333h1v11h-1z"/>
<path fill="#00ff08" d="M452 154h1v10h-1zM256 204h1v13h-1zM271 204h1v13h-1z"/>
<path fill="#00ff26" d="M453 154h1v10h-1zM459 258h1v13h-1z"/>
<path fill="#00ff44" d="M454 154h1v10h-1z"/>
<path fill="#00ff62" d="M455 154h1v10h-1zM434 204h1v13h-1zM458 204h1v13h-1zM459 217h1v14h-1z"/>
<path fill="#00ff81" d="M456 154h1v10h-1zM272 164h1v13h-1zM457 164h1v13h-1z"/>
<path fill="#00ff9f" d="M457 154h1v10h-1zM461 231h1v14h-1z"/>
<path fill="#00ffbd" d="M458 154h1v10h-1zM434 164h1v13h-1z"/>
<path fill="#0060ff" d="M467 154h1v10h-1zM556 154h3v10h-3zM408 164h1v13h-1zM508 177h1v14h-1z"/>
<path fill="#006aff" d="M492 154h1v10h-1zM519 154h1v10h-1zM156 164h1v13h-1zM520 177h1v14h-1z"/>
<path fill="#008bff" d="M526 154h1v10h-1zM529 154h1v10h-1zM549 154h3v10h-3zM461 177h2v14h-2zM479 191h1v13h-1zM560 191h1v13h-1zM415 204h1v13h-1z"/>
<path fill="#0075ff" d="M563 154h1v10h-1zM188 177h2v14h-2zM201 191h1v13h-1zM207 191h1v13h-1z"/>
<path fill="#008eff" d="M572 154h1v10h-1zM329 177h1v14h-1zM554 191h1v13h-1zM307 204h1v13h-1z"/>
<path fill="#0066ff" d="M149 164h1v13h-1zM172 177h1v14h-1zM336 177h1v14h-1zM504 177h1v14h-1z"/>
<path fill="#004aff" d="M158 164h2v13h-2z"/>
<path fill="#00ffd6" d="M254 164h1v13h-1zM274 164h1v13h-1zM433 164h1v13h-1zM460 164h1v13h-1zM362 284h1v14h-1zM590 284h1v14h-1zM198 298h1v15h-1zM583 298h1v15h-1zM385 313h1v20h-1zM410 313h1v20h-1zM533 313h2v20h-2zM557 313h1v20h-1zM164 333h1v11h-1zM396 333h3v11h-3zM536 333h2v11h-2zM546 333h3v11h-3z"/>
<path fill="#00ffa3" d="M255 164h1v13h-1zM435 164h1v13h-1z"/>
<path fill="#00ff3d" d="M257 164h1v13h-1zM439 164h1v13h-1z"/>
<path fill="#00ff0a" d="M258 164h1v13h-1zM441 164h1v13h-1zM440 177h1v14h-1z"/>
<path fill="#51ff00" d="M259 164h2v13h-2zM267 164h2v13h-2zM443 164h3v13h-3zM450 164h2v13h-2z"/>
<path fill="#00ff2c" d="M270 164h1v13h-1zM454 164h1v13h-1zM456 191h1v13h-1zM253 231h1v14h-1zM274 231h1v14h-1zM252 258h1v13h-1zM275 258h1v13h-1z"/>
<path fill="#00ff56" d="M271 164h1v13h-1zM438 164h1v13h-1z"/>
<path fill="#00ffac" d="M273 164h1v13h-1z"/>
<path fill="#0077ff" d="M302 164h1v13h-1zM519 177h1v14h-1z"/>
<path fill="#0051ff" d="M323 164h1v13h-1zM350 164h2v13h-2z"/>
<path fill="#0073ff" d="M338 164h1v13h-1zM517 177h1v14h-1z"/>
<path fill="#0068ff" d="M348 164h1v13h-1zM545 177h1v14h-1zM581 177h1v14h-1z"/>
<path fill="#00ff8a" d="M436 164h1v13h-1zM246 298h1v15h-1zM281 298h1v15h-1z"/>
<path fill="#00ff23" d="M440 164h1v13h-1zM439 177h1v14h-1z"/>
<path fill="#1fff00" d="M442 164h1v13h-1z"/>
<path fill="#1aff00" d="M452 164h1v13h-1zM278 333h1v11h-1zM461 333h1v11h-1z"/>
<path fill="#00ff0f" d="M453 164h1v13h-1zM255 217h1v14h-1zM272 217h1v14h-1zM252 271h1v13h-1zM275 271h1v13h-1z"/>
<path fill="#00ff48" d="M455 164h1v13h-1zM435 204h1v13h-1z"/>
<path fill="#00ff65" d="M456 164h1v13h-1z"/>
<path fill="#00ffba" d="M459 164h1v13h-1z"/>
<path fill="#0071ff" d="M517 164h1v13h-1zM540 164h1v13h-1zM335 191h1v13h-1z"/>
<path fill="#0048ff" d="M519 164h1v13h-1z"/>
<path fill="#007fff" d="M525 164h2v13h-2zM550 164h1v13h-1z"/>
<path fill="#0061ff" d="M527 164h2v13h-2zM140 177h2v14h-2zM275 177h1v14h-1zM580 177h1v14h-1z"/>
<path fill="#00ffd2" d="M253 177h1v14h-1zM274 177h1v14h-1zM432 177h1v14h-1zM460 177h1v14h-1zM213 298h1v15h-1zM331 298h3v15h-3zM482 298h1v15h-1zM162 313h4v20h-4zM390 313h1v20h-1zM469 313h1v20h-1zM548 313h1v20h-1zM405 333h1v11h-1z"/>
<path fill="#00ffa4" d="M254 177h1v14h-1zM273 177h1v14h-1zM253 191h1v13h-1zM274 191h1v13h-1zM461 217h1v14h-1z"/>
<path fill="#00ff77" d="M255 177h1v14h-1zM272 177h1v14h-1zM457 177h1v14h-1zM250 245h1v13h-1zM430 245h1v13h-1zM463 271h1v13h-1z"/>
<path fill="#00ff49" d="M256 177h1v14h-1zM271 177h1v14h-1zM433 231h1v14h-1zM248 298h1v15h-1zM279 298h1v15h-1zM429 298h1v15h-1zM280 313h1v20h-1z"/>
<path fill="#00ff1b" d="M257 177h1v14h-1zM270 177h1v14h-1zM454 177h1v14h-1z"/>
<path fill="#24ff00" d="M258 177h1v14h-1zM269 177h1v14h-1z"/>
<path fill="#7eff00" d="M259 177h2v14h-2zM267 177h2v14h-2zM443 177h3v14h-3zM450 177h2v14h-2z"/>
<path fill="#00ffb9" d="M433 177h1v14h-1z"/>
<path fill="#00ff87" d="M435 177h1v14h-1zM282 313h1v20h-1z"/>
<path fill="#00ff3c" d="M438 177h1v14h-1zM437 191h1v13h-1z"/>
<path fill="#1cff00" d="M441 177h1v14h-1z"/>
<path fill="#4dff00" d="M442 177h1v14h-1z"/>
<path fill="#42ff00" d="M452 177h1v14h-1z"/>
<path fill="#07ff00" d="M453 177h1v14h-1z"/>
<path fill="#00ff95" d="M458 177h1v14h-1zM464 271h1v13h-1z"/>
<path fill="#00ffce" d="M252 191h1v13h-1zM275 191h1v13h-1zM431 191h1v13h-1zM461 191h1v13h-1z"/>
<path fill="#00ff51" d="M255 191h1v13h-1zM272 191h1v13h-1zM252 231h1v14h-1zM275 231h1v14h-1zM249 284h1v14h-1zM278 284h1v14h-1zM429 284h1v14h-1zM463 298h1v15h-1z"/>
<path fill="#00ff28" d="M256 191h1v13h-1zM271 191h1v13h-1z"/>
<path fill="#04ff00" d="M257 191h1v13h-1zM270 191h1v13h-1zM273 245h1v13h-1z"/>
<path fill="#55ff00" d="M258 191h1v13h-1zM269 191h1v13h-1zM253 284h1v14h-1zM274 284h1v14h-1z"/>
<path fill="#a6ff00" d="M259 191h2v13h-2zM267 191h2v13h-2zM443 191h3v13h-3zM450 191h3v13h-3zM256 245h1v13h-1zM439 245h1v13h-1z"/>
<path fill="#00ffb5" d="M432 191h1v13h-1z"/>
<path fill="#00ff9d" d="M433 191h1v13h-1zM462 245h1v13h-1z"/>
<path fill="#00ff85" d="M434 191h1v13h-1z"/>
<path fill="#00ff6d" d="M435 191h1v13h-1zM458 191h1v13h-1z"/>
<path fill="#00ff54" d="M436 191h1v13h-1z"/>
<path fill="#00ff24" d="M438 191h1v13h-1zM274 245h1v13h-1zM248 333h1v11h-1z"/>
<path fill="#00ff0c" d="M439 191h1v13h-1zM455 191h1v13h-1zM278 313h1v20h-1z"/>
<path fill="#18ff00" d="M440 191h1v13h-1zM252 284h1v14h-1zM275 284h1v14h-1zM433 284h1v14h-1z"/>
<path fill="#47ff00" d="M441 191h1v13h-1z"/>
<path fill="#77ff00" d="M442 191h1v13h-1z"/>
<path fill="#67ff00" d="M453 191h1v13h-1z"/>
<path fill="#28ff00" d="M454 191h1v13h-1z"/>
<path fill="#00ff4c" d="M457 191h1v13h-1z"/>
<path fill="#00ff8d" d="M459 191h1v13h-1zM426 313h1v20h-1z"/>
<path fill="#00ffad" d="M460 191h1v13h-1z"/>
<path fill="#00ffc9" d="M251 204h1v13h-1zM276 204h1v13h-1zM430 204h1v13h-1zM461 204h1v13h-1z"/>
<path fill="#00ffa2" d="M252 204h1v13h-1zM275 204h1v13h-1z"/>
<path fill="#00ff7c" d="M253 204h1v13h-1zM274 204h1v13h-1zM433 204h1v13h-1zM252 217h1v14h-1zM275 217h1v14h-1z"/>
<path fill="#00ff2f" d="M255 204h1v13h-1zM272 204h1v13h-1zM436 204h1v13h-1z"/>
<path fill="#3cff00" d="M257 204h1v13h-1zM270 204h1v13h-1zM439 204h1v13h-1zM255 231h1v14h-1zM272 231h1v14h-1z"/>
<path fill="#87ff00" d="M258 204h1v13h-1zM269 204h1v13h-1zM437 271h1v13h-1z"/>
<path fill="#d2ff00" d="M259 204h2v13h-2zM267 204h2v13h-2zM442 204h4v13h-4zM450 204h3v13h-3zM260 313h1v20h-1zM267 313h1v20h-1zM445 313h1v20h-1zM450 313h1v20h-1z"/>
<path fill="#00e5ff" d="M344 204h1v13h-1zM359 204h1v13h-1zM134 217h1v14h-1zM139 217h1v14h-1zM214 231h1v14h-1zM244 231h1v14h-1zM279 231h1v14h-1z"/>
<path fill="#00ff96" d="M432 204h1v13h-1zM277 245h1v13h-1z"/>
<path fill="#00ff15" d="M437 204h1v13h-1zM433 271h1v13h-1zM461 298h1v15h-1z"/>
<path fill="#0aff00" d="M438 204h1v13h-1zM455 204h1v13h-1z"/>
<path fill="#6eff00" d="M440 204h1v13h-1zM437 258h1v13h-1zM260 271h1v13h-1zM267 271h1v13h-1zM445 271h1v13h-1zM450 271h1v13h-1z"/>
<path fill="#a0ff00" d="M441 204h1v13h-1z"/>
<path fill="#8fff00" d="M453 204h1v13h-1zM260 284h1v14h-1zM267 284h1v14h-1zM445 284h1v14h-1zM450 284h1v14h-1z"/>
<path fill="#4cff00" d="M454 204h1v13h-1z"/>
<path fill="#00ff1d" d="M456 204h1v13h-1z"/>
<path fill="#00ff84" d="M459 204h1v13h-1zM246 313h1v20h-1zM283 333h1v11h-1zM466 333h1v11h-1z"/>
<path fill="#00ffa7" d="M460 204h1v13h-1z"/>
<path fill="#0091ff" d="M469 204h1v13h-1z"/>
<path fill="#00f0ff" d="M160 217h1v14h-1zM319 217h1v14h-1zM587 217h1v14h-1zM347 245h3v13h-3z"/>
<path fill="#00f4ff" d="M231 217h2v14h-2zM289 217h1v14h-1zM503 217h2v14h-2zM483 245h1v13h-1z"/>
<path fill="#00f6ff" d="M234 217h1v14h-1zM417 217h1v14h-1zM509 217h2v14h-2zM569 231h2v14h-2zM353 245h3v13h-3z"/>
<path fill="#00ff57" d="M253 217h1v14h-1zM274 217h1v14h-1z"/>
<path fill="#00ff33" d="M254 217h1v14h-1zM273 217h1v14h-1zM252 245h1v13h-1zM433 245h1v13h-1zM462 298h1v15h-1zM463 313h1v20h-1z"/>
<path fill="#2aff00" d="M256 217h1v14h-1zM271 217h1v14h-1z"/>
<path fill="#71ff00" d="M257 217h1v14h-1zM270 217h1v14h-1zM251 333h1v11h-1z"/>
<path fill="#b8ff00" d="M258 217h1v14h-1zM269 217h1v14h-1zM440 231h1v14h-1z"/>
<path fill="#ffff00" d="M259 217h2v14h-2zM267 217h2v14h-2zM442 217h4v14h-4zM450 217h3v14h-3zM441 245h1v13h-1z"/>
<path fill="#00ecff" d="M293 217h2v14h-2zM289 245h1v13h-1zM418 245h1v13h-1zM478 245h1v13h-1zM490 245h2v13h-2z"/>
<path fill="#00f5ff" d="M308 217h1v14h-1zM369 217h1v14h-1zM541 217h1v14h-1zM408 245h2v13h-2z"/>
<path fill="#00ebff" d="M381 217h1v14h-1zM558 217h1v14h-1zM152 231h1v14h-1z"/>
<path fill="#00edff" d="M403 217h3v14h-3zM528 231h1v14h-1zM563 231h1v14h-1zM583 231h1v14h-1zM359 245h2v13h-2z"/>
<path fill="#00ff92" d="M431 217h1v14h-1zM248 271h1v13h-1zM279 271h1v13h-1zM465 284h1v14h-1zM426 298h1v15h-1z"/>
<path fill="#00ff79" d="M432 217h1v14h-1zM431 231h1v14h-1z"/>
<path fill="#00ff47" d="M434 217h1v14h-1z"/>
<path fill="#00ff2e" d="M435 217h1v14h-1z"/>
<path fill="#00ff14" d="M436 217h1v14h-1z"/>
<path fill="#09ff00" d="M437 217h1v14h-1z"/>
<path fill="#3bff00" d="M438 217h1v14h-1zM432 333h1v11h-1z"/>
<path fill="#6cff00" d="M439 217h1v14h-1zM252 298h1v15h-1zM275 298h1v15h-1z"/>
<path fill="#9dff00" d="M440 217h1v14h-1z"/>
<path fill="#ceff00" d="M441 217h1v14h-1z"/>
<path fill="#bfff00" d="M453 217h1v14h-1z"/>
<path fill="#7fff00" d="M454 217h1v14h-1z"/>
<path fill="#3fff00" d="M455 217h1v14h-1z"/>
<path fill="#00ff00" d="M456 217h1v14h-1z"/>
<path fill="#00ff42" d="M458 217h1v14h-1zM431 271h1v13h-1zM248 313h1v20h-1zM429 313h1v20h-1z"/>
<path fill="#00ff83" d="M460 217h1v14h-1z"/>
<path fill="#00efff" d="M125 231h1v14h-1zM141 231h1v14h-1zM543 245h1v13h-1zM566 245h1v13h-1z"/>
<path fill="#00fffd" d="M133 231h2v14h-2zM170 231h1v14h-1zM175 245h1v13h-1zM247 245h1v13h-1zM322 245h1v13h-1zM421 245h1v13h-1zM481 245h1v13h-1zM495 245h1v13h-1zM115 258h1v13h-1zM509 258h2v13h-2z"/>
<path fill="#00f2ff" d="M165 231h1v14h-1zM213 231h1v14h-1zM296 245h1v13h-1zM382 245h2v13h-2zM508 245h1v13h-1z"/>
<path fill="#00fbff" d="M208 231h2v14h-2zM228 231h1v14h-1zM391 231h1v14h-1zM521 231h3v14h-3zM165 245h1v13h-1zM323 245h1v13h-1z"/>
<path fill="#00fffe" d="M227 231h1v14h-1zM325 231h1v14h-1zM579 231h1v14h-1zM185 245h1v13h-1zM307 245h2v13h-2zM342 245h1v13h-1zM377 245h1v13h-1zM468 245h1v13h-1zM571 245h1v13h-1zM194 258h1v13h-1zM343 258h1v13h-1zM396 258h1v13h-1zM418 258h1v13h-1z"/>
<path fill="#00ff9b" d="M250 231h1v14h-1zM277 231h1v14h-1z"/>
<path fill="#00ff76" d="M251 231h1v14h-1zM276 231h1v14h-1zM429 258h1v13h-1z"/>
<path fill="#00ff06" d="M254 231h1v14h-1zM273 231h1v14h-1zM435 245h1v13h-1z"/>
<path fill="#84ff00" d="M256 231h1v14h-1zM271 231h1v14h-1zM458 298h1v15h-1z"/>
<path fill="#cdff00" d="M257 231h1v14h-1zM270 231h1v14h-1z"/>
<path fill="#fff700" d="M258 231h3v14h-3zM267 231h3v14h-3zM442 231h4v14h-4zM450 231h3v14h-3zM455 284h1v14h-1zM273 313h1v20h-1z"/>
<path fill="#00faff" d="M311 231h1v14h-1zM201 245h3v13h-3zM534 245h1v13h-1zM490 258h1v13h-1zM598 258h1v13h-1z"/>
<path fill="#00ffff" d="M355 231h1v14h-1zM405 231h1v14h-1zM186 245h1v13h-1zM199 245h2v13h-2zM415 245h1v13h-1zM417 245h1v13h-1zM218 258h1v13h-1zM224 258h1v13h-1zM289 258h1v13h-1zM309 258h1v13h-1zM319 258h1v13h-1zM539 258h1v13h-1z"/>
<path fill="#00f1ff" d="M375 231h2v14h-2zM535 231h1v14h-1zM575 231h1v14h-1zM280 245h1v13h-1zM327 245h1v13h-1zM552 245h1v13h-1z"/>
<path fill="#00feff" d="M382 231h1v14h-1zM549 245h1v13h-1z"/>
<path fill="#00f9ff" d="M392 231h3v14h-3zM246 245h1v13h-1zM579 245h1v13h-1zM246 258h1v13h-1zM590 258h1v13h-1z"/>
<path fill="#00ff90" d="M430 231h1v14h-1z"/>
<path fill="#00ff61" d="M432 231h1v14h-1zM431 245h1v13h-1zM428 298h1v15h-1z"/>
<path fill="#00ff31" d="M434 231h1v14h-1zM430 298h1v15h-1z"/>
<path fill="#00ff19" d="M435 231h1v14h-1zM457 231h1v14h-1zM431 298h1v15h-1z"/>
<path fill="#2cff00" d="M437 231h1v14h-1z"/>
<path fill="#5bff00" d="M438 231h1v14h-1zM436 271h1v13h-1z"/>
<path fill="#8aff00" d="M439 231h1v14h-1z"/>
<path fill="#e7ff00" d="M441 231h1v14h-1z"/>
<path fill="#d4ff00" d="M453 231h1v14h-1z"/>
<path fill="#93ff00" d="M454 231h1v14h-1z"/>
<path fill="#52ff00" d="M455 231h1v14h-1zM277 333h1v11h-1zM460 333h1v11h-1z"/>
<path fill="#11ff00" d="M456 231h1v14h-1zM460 298h1v15h-1z"/>
<path fill="#00ff5c" d="M459 231h1v14h-1z"/>
<path fill="#00ff7d" d="M460 231h1v14h-1zM462 258h1v13h-1z"/>
<path fill="#00fcff" d="M475 231h3v14h-3zM243 245h2v13h-2zM532 245h2v13h-2zM597 245h1v13h-1zM344 258h1v13h-1z"/>
<path fill="#00f3ff" d="M541 231h1v14h-1zM565 231h1v14h-1z"/>
<path fill="#00f7ff" d="M595 231h1v14h-1zM407 245h1v13h-1z"/>
<path fill="#00fffc" d="M116 245h1v13h-1zM555 245h1v13h-1zM164 258h1v13h-1zM522 258h1v13h-1zM570 258h1v13h-1z"/>
<path fill="#00fffb" d="M124 245h2v13h-2zM487 245h1v13h-1zM507 245h1v13h-1zM535 245h1v13h-1zM550 245h1v13h-1zM175 258h1v13h-1zM217 258h1v13h-1zM222 258h1v13h-1zM393 258h3v13h-3z"/>
<path fill="#00fff5" d="M130 245h1v13h-1zM300 245h1v13h-1zM309 245h1v13h-1zM504 245h1v13h-1zM334 258h2v13h-2z"/>
<path fill="#00eeff" d="M157 245h2v13h-2zM466 245h1v13h-1z"/>
<path fill="#00fff9" d="M163 245h1v13h-1zM171 245h2v13h-2zM176 245h1v13h-1zM237 245h3v13h-3zM424 245h1v13h-1zM492 245h3v13h-3zM514 245h1v13h-1zM556 245h1v13h-1zM160 258h1v13h-1zM299 258h1v13h-1z"/>
<path fill="#00fff8" d="M180 245h1v13h-1zM228 245h1v13h-1zM569 245h1v13h-1zM572 245h1v13h-1zM116 258h1v13h-1zM191 258h1v13h-1zM477 258h3v13h-3zM511 258h2v13h-2zM583 258h1v13h-1z"/>
<path fill="#00fff2" d="M236 245h1v13h-1zM396 245h1v13h-1zM475 245h3v13h-3zM378 258h1v13h-1zM415 258h1v13h-1z"/>
<path fill="#00ffbc" d="M248 245h1v13h-1zM278 245h1v13h-1zM427 245h1v13h-1zM463 245h1v13h-1z"/>
<path fill="#00ff9a" d="M249 245h1v13h-1zM463 258h1v13h-1z"/>
<path fill="#00ff11" d="M253 245h1v13h-1z"/>
<path fill="#21ff00" d="M254 245h1v13h-1zM436 245h1v13h-1z"/>
<path fill="#64ff00" d="M255 245h1v13h-1z"/>
<path fill="#e9ff00" d="M257 245h1v13h-1zM457 313h1v20h-1zM260 333h1v11h-1zM267 333h1v11h-1zM445 333h1v11h-1zM450 333h1v11h-1z"/>
<path fill="#ffee00" d="M258 245h3v13h-3zM267 245h3v13h-3zM442 245h4v13h-4zM450 245h3v13h-3z"/>
<path fill="#e2ff00" d="M270 245h1v13h-1z"/>
<path fill="#98ff00" d="M271 245h1v13h-1zM438 258h1v13h-1zM455 258h1v13h-1zM434 333h1v11h-1z"/>
<path fill="#4eff00" d="M272 245h1v13h-1zM437 245h1v13h-1z"/>
<path fill="#00fffa" d="M291 245h1v13h-1zM361 245h1v13h-1zM585 245h1v13h-1zM528 258h1v13h-1z"/>
<path fill="#00fff4" d="M302 245h1v13h-1zM470 245h2v13h-2zM500 245h1v13h-1zM156 258h3v13h-3zM498 258h1v13h-1z"/>
<path fill="#00fff3" d="M303 245h1v13h-1zM393 245h1v13h-1zM398 245h2v13h-2zM586 245h3v13h-3zM155 258h1v13h-1zM409 258h1v13h-1zM425 258h1v13h-1zM469 258h1v13h-1zM521 258h1v13h-1z"/>
<path fill="#00fdff" d="M336 245h1v13h-1zM292 258h1v13h-1zM366 258h1v13h-1z"/>
<path fill="#00fff6" d="M346 245h1v13h-1zM365 245h1v13h-1zM394 245h2v13h-2zM474 245h1v13h-1zM522 245h1v13h-1zM563 245h1v13h-1z"/>
<path fill="#00ff8e" d="M429 245h1v13h-1z"/>
<path fill="#00ff1c" d="M434 245h1v13h-1zM460 271h1v13h-1z"/>
<path fill="#7aff00" d="M438 245h1v13h-1zM459 313h1v20h-1z"/>
<path fill="#d3ff00" d="M440 245h1v13h-1z"/>
<path fill="#efff00" d="M453 245h1v13h-1z"/>
<path fill="#b3ff00" d="M454 245h1v13h-1zM438 271h1v13h-1zM456 271h1v13h-1z"/>
<path fill="#76ff00" d="M455 245h1v13h-1zM255 258h1v13h-1zM272 258h1v13h-1z"/>
<path fill="#3aff00" d="M456 245h1v13h-1z"/>
<path fill="#00ff02" d="M457 245h1v13h-1zM460 284h1v14h-1z"/>
<path fill="#00ff5f" d="M460 245h1v13h-1z"/>
<path fill="#00ff7e" d="M461 245h1v13h-1z"/>
<path fill="#00ffe7" d="M133 258h1v13h-1zM312 258h1v13h-1zM324 258h1v13h-1zM392 271h1v13h-1zM517 271h2v13h-2zM521 271h1v13h-1zM538 271h1v13h-1zM326 284h1v14h-1zM391 284h1v14h-1zM474 284h2v14h-2zM153 298h1v15h-1zM344 298h1v15h-1zM507 298h1v15h-1zM596 333h3v11h-3z"/>
<path fill="#00ffeb" d="M168 258h1v13h-1zM541 258h1v13h-1zM190 271h1v13h-1zM396 271h3v13h-3zM471 284h2v14h-2zM559 298h1v15h-1zM378 313h1v20h-1zM159 333h1v11h-1zM321 333h2v11h-2zM389 333h1v11h-1z"/>
<path fill="#00ffee" d="M179 258h1v13h-1zM391 258h1v13h-1zM300 271h1v13h-1zM393 271h1v13h-1zM562 271h2v13h-2zM587 271h2v13h-2zM300 284h1v14h-1zM308 284h1v14h-1zM480 284h2v14h-2z"/>
<path fill="#00ffef" d="M205 258h2v13h-2zM346 258h1v13h-1zM466 258h2v13h-2zM585 258h2v13h-2zM144 271h1v13h-1zM196 271h3v13h-3zM210 271h2v13h-2zM285 271h2v13h-2zM379 271h1v13h-1zM511 271h1v13h-1zM420 284h1v14h-1zM526 284h3v14h-3z"/>
<path fill="#00ffb7" d="M248 258h1v13h-1zM279 258h1v13h-1zM426 258h1v13h-1zM464 258h1v13h-1z"/>
<path fill="#00ff94" d="M249 258h1v13h-1zM278 258h1v13h-1z"/>
<path fill="#00ff72" d="M250 258h1v13h-1zM277 258h1v13h-1z"/>
<path fill="#00ff09" d="M253 258h1v13h-1zM274 258h1v13h-1zM434 258h1v13h-1zM458 258h1v13h-1zM250 298h1v15h-1zM277 298h1v15h-1z"/>
<path fill="#32ff00" d="M254 258h1v13h-1zM273 258h1v13h-1z"/>
<path fill="#baff00" d="M256 258h1v13h-1zM271 258h1v13h-1z"/>
<path fill="#feff00" d="M257 258h1v13h-1zM270 258h1v13h-1z"/>
<path fill="#ffe600" d="M258 258h3v13h-3zM267 258h3v13h-3zM442 258h4v13h-4zM450 258h3v13h-3z"/>
<path fill="#00ffe6" d="M305 258h1v13h-1zM240 271h1v13h-1zM409 284h1v14h-1zM504 284h1v14h-1zM510 284h1v14h-1zM541 284h1v14h-1zM226 298h3v15h-3zM238 298h1v15h-1zM294 298h1v15h-1zM374 298h1v15h-1zM565 298h1v15h-1zM308 313h1v20h-1zM367 313h1v20h-1zM473 313h1v20h-1zM508 313h1v20h-1zM555 313h1v20h-1zM570 313h1v20h-1z"/>
<path fill="#00ffec" d="M402 258h2v13h-2zM354 271h1v13h-1zM384 271h1v13h-1zM545 271h1v13h-1zM547 271h1v13h-1z"/>
<path fill="#00ffa1" d="M427 258h1v13h-1zM244 333h1v11h-1zM284 333h1v11h-1zM424 333h1v11h-1zM467 333h1v11h-1z"/>
<path fill="#00ff8c" d="M428 258h1v13h-1zM465 298h1v15h-1z"/>
<path fill="#19ff00" d="M435 258h1v13h-1z"/>
<path fill="#43ff00" d="M436 258h1v13h-1zM251 313h1v20h-1zM433 313h1v20h-1zM460 313h1v20h-1z"/>
<path fill="#c3ff00" d="M439 258h1v13h-1zM275 333h1v11h-1zM458 333h1v11h-1z"/>
<path fill="#edff00" d="M440 258h1v13h-1z"/>
<path fill="#fff600" d="M441 258h1v13h-1z"/>
<path fill="#fffb00" d="M453 258h1v13h-1z"/>
<path fill="#d1ff00" d="M454 258h1v13h-1z"/>
<path fill="#60ff00" d="M456 258h1v13h-1z"/>
<path fill="#27ff00" d="M457 258h1v13h-1z"/>
<path fill="#00ff43" d="M460 258h1v13h-1zM247 333h1v11h-1z"/>
<path fill="#00fff0" d="M513 258h1v13h-1zM574 258h1v13h-1zM164 271h1v13h-1zM198 284h1v14h-1z"/>
<path fill="#00ffea" d="M534 258h1v13h-1zM182 271h1v13h-1zM390 271h1v13h-1zM491 271h1v13h-1zM515 271h2v13h-2zM350 284h1v14h-1zM393 284h1v14h-1zM398 298h1v15h-1zM513 298h1v15h-1zM533 333h1v11h-1z"/>
<path fill="#00ffde" d="M114 271h1v13h-1zM155 284h1v14h-1zM321 284h1v14h-1zM549 284h1v14h-1zM575 284h3v14h-3zM309 298h1v15h-1zM476 298h2v15h-2zM567 298h1v15h-1zM146 313h1v20h-1zM200 313h1v20h-1z"/>
<path fill="#00ffe3" d="M124 271h1v13h-1zM146 271h1v13h-1zM291 271h1v13h-1zM341 271h1v13h-1zM171 284h2v14h-2zM500 284h1v14h-1zM296 298h1v15h-1zM418 298h1v15h-1zM424 298h1v15h-1zM180 313h1v20h-1z"/>
<path fill="#00ffe9" d="M128 271h1v13h-1zM233 271h1v13h-1zM495 271h1v13h-1zM371 284h1v14h-1zM374 284h1v14h-1zM116 298h1v15h-1zM390 298h2v15h-2zM197 333h1v11h-1zM314 333h1v11h-1zM484 333h2v11h-2z"/>
<path fill="#00ffe5" d="M140 271h1v13h-1zM298 271h1v13h-1zM203 284h1v14h-1zM304 284h1v14h-1zM320 284h1v14h-1zM547 284h2v14h-2zM407 298h1v15h-1zM572 298h1v15h-1zM212 313h1v20h-1zM351 333h2v11h-2z"/>
<path fill="#00ffdc" d="M220 271h1v13h-1zM412 271h1v13h-1zM489 271h1v13h-1zM578 284h1v14h-1zM223 333h1v11h-1zM489 333h1v11h-1zM496 333h1v11h-1z"/>
<path fill="#00ffdd" d="M229 271h1v13h-1zM568 271h1v13h-1zM576 271h3v13h-3zM532 284h1v14h-1zM286 313h2v20h-2zM405 313h1v20h-1zM409 313h1v20h-1zM342 333h1v11h-1zM504 333h1v11h-1zM507 333h1v11h-1zM515 333h1v11h-1z"/>
<path fill="#00ff71" d="M249 271h1v13h-1zM278 271h1v13h-1zM426 333h1v11h-1z"/>
<path fill="#00ff50" d="M250 271h1v13h-1zM277 271h1v13h-1zM464 313h1v20h-1z"/>
<path fill="#00ff30" d="M251 271h1v13h-1zM276 271h1v13h-1z"/>
<path fill="#23ff00" d="M253 271h1v13h-1zM274 271h1v13h-1z"/>
<path fill="#63ff00" d="M254 271h1v13h-1zM273 271h1v13h-1z"/>
<path fill="#a3ff00" d="M255 271h1v13h-1zM272 271h1v13h-1z"/>
<path fill="#e3ff00" d="M256 271h1v13h-1zM271 271h1v13h-1z"/>
<path fill="#fff100" d="M257 271h1v13h-1zM270 271h1v13h-1zM437 333h1v11h-1z"/>
<path fill="#ffd900" d="M258 271h2v13h-2zM268 271h2v13h-2zM442 271h3v13h-3zM451 271h3v13h-3zM255 333h1v11h-1z"/>
<path fill="#00ffe2" d="M304 271h1v13h-1zM590 271h1v13h-1zM373 313h3v20h-3zM526 313h1v20h-1zM124 333h1v11h-1zM152 333h2v11h-2zM377 333h1v11h-1z"/>
<path fill="#00ffe0" d="M336 271h1v13h-1zM582 271h2v13h-2zM227 284h1v14h-1zM364 284h1v14h-1zM517 284h1v14h-1zM544 284h1v14h-1zM221 298h1v15h-1zM287 298h1v15h-1zM311 298h2v15h-2zM404 313h1v20h-1zM179 333h1v11h-1zM499 333h2v11h-2zM545 333h1v11h-1zM556 333h1v11h-1z"/>
<path fill="#00ff2b" d="M432 271h1v13h-1zM279 313h1v20h-1z"/>
<path fill="#03ff00" d="M434 271h1v13h-1zM459 271h1v13h-1z"/>
<path fill="#2fff00" d="M435 271h1v13h-1z"/>
<path fill="#dfff00" d="M439 271h1v13h-1z"/>
<path fill="#fffa00" d="M440 271h1v13h-1zM256 284h1v14h-1zM271 284h1v14h-1z"/>
<path fill="#ffea00" d="M441 271h1v13h-1zM438 313h1v20h-1z"/>
<path fill="#ffef00" d="M454 271h1v13h-1zM439 284h1v14h-1zM255 298h1v15h-1zM272 298h1v15h-1z"/>
<path fill="#eeff00" d="M455 271h1v13h-1z"/>
<path fill="#79ff00" d="M457 271h1v13h-1z"/>
<path fill="#3eff00" d="M458 271h1v13h-1z"/>
<path fill="#00ffe1" d="M553 271h1v13h-1zM572 284h2v14h-2zM125 298h2v15h-2zM349 298h1v15h-1zM358 298h1v15h-1zM383 298h1v15h-1zM524 298h1v15h-1zM303 313h3v20h-3zM495 313h1v20h-1zM538 333h3v11h-3zM566 333h3v11h-3zM594 333h1v11h-1z"/>
<path fill="#00ffd5" d="M195 284h1v14h-1zM318 284h1v14h-1zM333 284h1v14h-1zM368 284h1v14h-1zM530 284h1v14h-1zM386 313h1v20h-1zM121 333h1v11h-1z"/>
<path fill="#00ffae" d="M246 284h1v14h-1zM281 284h1v14h-1zM425 284h1v14h-1zM466 284h1v14h-1z"/>
<path fill="#00ff8f" d="M247 284h1v14h-1zM280 284h1v14h-1z"/>
<path fill="#00ff32" d="M250 284h1v14h-1zM277 284h1v14h-1z"/>
<path fill="#00ff13" d="M251 284h1v14h-1zM276 284h1v14h-1z"/>
<path fill="#92ff00" d="M254 284h1v14h-1zM273 284h1v14h-1z"/>
<path fill="#cfff00" d="M255 284h1v14h-1zM272 284h1v14h-1zM437 284h1v14h-1z"/>
<path fill="#ffe400" d="M257 284h1v14h-1zM270 284h1v14h-1zM439 298h1v15h-1zM255 313h1v20h-1z"/>
<path fill="#ffcd00" d="M258 284h2v14h-2zM268 284h2v14h-2zM441 284h4v14h-4zM451 284h3v14h-3z"/>
<path fill="#00ffda" d="M293 284h1v14h-1zM502 284h1v14h-1zM362 298h2v15h-2zM210 313h1v20h-1zM323 313h2v20h-2zM514 333h1v11h-1z"/>
<path fill="#00ffd9" d="M328 284h1v14h-1zM417 284h1v14h-1zM185 298h1v15h-1zM517 298h1v15h-1zM526 298h1v15h-1zM574 298h1v15h-1zM352 313h1v20h-1zM496 313h1v20h-1zM503 313h1v20h-1zM479 333h1v11h-1zM550 333h1v11h-1z"/>
<path fill="#00ff97" d="M426 284h1v14h-1z"/>
<path fill="#00ff68" d="M428 284h1v14h-1zM281 313h1v20h-1z"/>
<path fill="#00ff22" d="M431 284h1v14h-1z"/>
<path fill="#00ff0b" d="M432 284h1v14h-1z"/>
<path fill="#46ff00" d="M434 284h1v14h-1z"/>
<path fill="#74ff00" d="M435 284h1v14h-1z"/>
<path fill="#a1ff00" d="M436 284h1v14h-1z"/>
<path fill="#fcff00" d="M438 284h1v14h-1zM274 333h1v11h-1zM457 333h1v11h-1z"/>
<path fill="#ffde00" d="M440 284h1v14h-1z"/>
<path fill="#ffe200" d="M454 284h1v14h-1z"/>
<path fill="#ddff00" d="M456 284h1v14h-1z"/>
<path fill="#a5ff00" d="M457 284h1v14h-1z"/>
<path fill="#6dff00" d="M458 284h1v14h-1z"/>
<path fill="#34ff00" d="M459 284h1v14h-1zM250 333h1v11h-1z"/>
<path fill="#00ff3b" d="M462 284h1v14h-1z"/>
<path fill="#00ffd3" d="M141 298h2v15h-2zM523 298h1v15h-1zM553 298h3v15h-3zM317 313h1v20h-1z"/>
<path fill="#00ffd8" d="M176 298h1v15h-1zM473 298h1v15h-1zM403 313h1v20h-1zM476 313h1v20h-1zM494 313h1v20h-1zM512 313h1v20h-1zM150 333h1v11h-1zM416 333h1v11h-1zM505 333h1v11h-1z"/>
<path fill="#00ffd7" d="M177 298h1v15h-1zM356 298h1v15h-1zM502 298h1v15h-1zM337 313h1v20h-1zM424 313h1v20h-1zM336 333h1v11h-1zM341 333h1v11h-1z"/>
<path fill="#2eff00" d="M251 298h1v15h-1zM276 298h1v15h-1zM433 298h1v15h-1z"/>
<path fill="#abff00" d="M253 298h1v15h-1zM274 298h1v15h-1z"/>
<path fill="#eaff00" d="M254 298h1v15h-1zM273 298h1v15h-1zM437 298h1v15h-1zM253 333h1v11h-1z"/>
<path fill="#ffd800" d="M256 298h1v15h-1zM271 298h1v15h-1zM439 313h1v20h-1z"/>
<path fill="#ffc000" d="M257 298h3v15h-3zM268 298h3v15h-3zM441 298h4v15h-4zM451 298h3v15h-3zM271 333h1v11h-1zM454 333h1v11h-1z"/>
<path fill="#b1ff00" d="M260 298h1v15h-1zM267 298h1v15h-1zM445 298h1v15h-1zM450 298h1v15h-1z"/>
<path fill="#00ffcf" d="M401 298h2v15h-2zM336 313h1v20h-1zM189 333h1v11h-1zM243 333h1v11h-1zM372 333h2v11h-2z"/>
<path fill="#5dff00" d="M434 298h1v15h-1z"/>
<path fill="#8cff00" d="M435 298h1v15h-1z"/>
<path fill="#bbff00" d="M436 298h1v15h-1z"/>
<path fill="#fff500" d="M438 298h1v15h-1z"/>
<path fill="#ffd200" d="M440 298h1v15h-1z"/>
<path fill="#ffd600" d="M454 298h1v15h-1zM272 333h1v11h-1zM455 333h1v11h-1z"/>
<path fill="#ffec00" d="M455 298h1v15h-1z"/>
<path fill="#f8ff00" d="M456 298h1v15h-1z"/>
<path fill="#beff00" d="M457 298h1v15h-1z"/>
<path fill="#4aff00" d="M459 298h1v15h-1z"/>
<path fill="#00ffd0" d="M516 298h1v15h-1zM130 313h1v20h-1zM299 313h1v20h-1zM361 313h1v20h-1zM391 313h1v20h-1zM309 333h1v11h-1zM400 333h1v11h-1zM590 333h1v11h-1z"/>
<path fill="#00ff63" d="M247 313h1v20h-1zM246 333h1v11h-1z"/>
<path fill="#00ff20" d="M249 313h1v20h-1z"/>
<path fill="#02ff00" d="M250 313h1v20h-1z"/>
<path fill="#83ff00" d="M252 313h1v20h-1z"/>
<path fill="#c4ff00" d="M253 313h1v20h-1z"/>
<path fill="#fffd00" d="M254 313h1v20h-1zM437 313h1v20h-1z"/>
<path fill="#ffcc00" d="M256 313h1v20h-1z"/>
<path fill="#ffb400" d="M257 313h3v20h-3zM268 313h3v20h-3zM441 313h4v20h-4zM451 313h3v20h-3z"/>
<path fill="#ffca00" d="M271 313h1v20h-1z"/>
<path fill="#ffe100" d="M272 313h1v20h-1z"/>
<path fill="#d8ff00" d="M274 313h1v20h-1z"/>
<path fill="#9cff00" d="M275 313h1v20h-1z"/>
<path fill="#61ff00" d="M276 313h1v20h-1z"/>
<path fill="#25ff00" d="M277 313h1v20h-1z"/>
<path fill="#00ffd4" d="M290 313h1v20h-1zM362 313h1v20h-1zM420 313h1v20h-1zM519 313h1v20h-1zM581 313h1v20h-1zM529 333h1v11h-1zM531 333h1v11h-1z"/>
<path fill="#00ffd1" d="M395 313h1v20h-1zM554 313h1v20h-1zM296 333h1v11h-1zM564 333h1v11h-1z"/>
<path fill="#00ff74" d="M427 313h1v20h-1z"/>
<path fill="#00ff5b" d="M428 313h1v20h-1z"/>
<path fill="#00ff10" d="M431 313h1v20h-1zM279 333h1v11h-1zM462 333h1v11h-1z"/>
<path fill="#12ff00" d="M432 313h1v20h-1z"/>
<path fill="#73ff00" d="M434 313h1v20h-1z"/>
<path fill="#a4ff00" d="M435 313h1v20h-1z"/>
<path fill="#d5ff00" d="M436 313h1v20h-1z"/>
<path fill="#ffc600" d="M440 313h1v20h-1z"/>
<path fill="#ffc800" d="M454 313h1v20h-1z"/>
<path fill="#ffdd00" d="M455 313h1v20h-1z"/>
<path fill="#fff200" d="M456 313h1v20h-1z"/>
<path fill="#b2ff00" d="M458 313h1v20h-1z"/>
<path fill="#0bff00" d="M461 313h1v20h-1z"/>
<path fill="#00ff17" d="M462 313h1v20h-1z"/>
<path fill="#00ff6c" d="M465 313h1v20h-1z"/>
<path fill="#00ff82" d="M245 333h1v11h-1z"/>
<path fill="#adff00" d="M252 333h1v11h-1z"/>
<path fill="#fff000" d="M254 333h1v11h-1z"/>
<path fill="#ffc200" d="M256 333h1v11h-1z"/>
<path fill="#ffab00" d="M257 333h3v11h-3zM268 333h3v11h-3zM441 333h4v11h-4zM451 333h3v11h-3z"/>
<path fill="#ffeb00" d="M273 333h1v11h-1zM456 333h1v11h-1z"/>
<path fill="#8bff00" d="M276 333h1v11h-1zM459 333h1v11h-1z"/>
<path fill="#00ff41" d="M428 333h1v11h-1z"/>
<path fill="#00ff2a" d="M429 333h1v11h-1z"/>
<path fill="#0cff00" d="M431 333h1v11h-1z"/>
<path fill="#69ff00" d="M433 333h1v11h-1z"/>
<path fill="#c7ff00" d="M435 333h1v11h-1z"/>
<path fill="#f5ff00" d="M436 333h1v11h-1z"/>
<path fill="#ffe000" d="M438 333h1v11h-1z"/>
<path fill="#ffce00" d="M439 333h1v11h-1z"/>
<path fill="#ffbd00" d="M440 333h1v11h-1z"/>
<rect x="613" y="57" width="14" height="300" fill="url(#cb)"/></g>
<path fill="none" stroke="#000" stroke-width="1" shape-rendering="crispEdges" d="M111.5 55.5H599.5V357.5H111.5ZM112.5 358V368M132.5 358V363M152.5 358V363M172.5 358V363M193.5 358V363M213.5 358V363M233.5 358V368M254.5 358V363M274.5 358V363M294.5 358V363M314.5 358V363M335.5 358V363M355.5 358V368M375.5 358V363M396.5 358V363M416.5 358V363M436.5 358V363M456.5 358V363M477.5 358V368M497.5 358V363M517.5 358V363M538.5 358V363M558.5 358V363M578.5 358V363M599.5 358V368M101 295.5H111M101 91.5H111M106 356.5H111M106 340.5H111M106 327.5H111M106 315.5H111M106 304.5H111M106 234.5H111M106 198.5H111M106 172.5H111M106 152.5H111M106 136.5H111M106 123.5H111M106 111.5H111M106 100.5H111M111.5 407.5H599.5V514.5H111.5ZM112.5 515V525M132.5 515V520M152.5 515V520M172.5 515V520M193.5 515V520M213.5 515V520M233.5 515V525M254.5 515V520M274.5 515V520M294.5 515V520M314.5 515V520M335.5 515V520M355.5 515V525M375.5 515V520M396.5 515V520M416.5 515V520M436.5 515V520M456.5 515V520M477.5 515V525M497.5 515V520M517.5 515V520M538.5 515V520M558.5 515V520M578.5 515V520M599.5 515V525M101 419.5H111M101 446.5H111M101 473.5H111M101 499.5H111M106 513.5H111M106 510.5H111M106 507.5H111M106 505.5H111M106 504.5H111M106 502.5H111M106 501.5H111M106 491.5H111M106 487.5H111M106 483.5H111M106 481.5H111M106 479.5H111M106 477.5H111M106 475.5H111M106 474.5H111M106 465.5H111M106 460.5H111M106 457.5H111M106 454.5H111M106 452.5H111M106 450.5H111M106 449.5H111M106 447.5H111M106 438.5H111M106 433.5H111M106 430.5H111M106 427.5H111M106 425.5H111M106 424.5H111M106 422.5H111M106 421.5H111M106 411.5H111M111.5 565.5H599.5V672.5H111.5ZM112.5 673V683M132.5 673V678M152.5 673V678M172.5 673V678M193.5 673V678M213.5 673V678M233.5 673V683M254.5 673V678M274.5 673V678M294.5 673V678M314.5 673V678M335.5 673V678M355.5 673V683M375.5 673V678M396.5 673V678M416.5 673V678M436.5 673V678M456.5 673V678M477.5 673V683M497.5 673V678M517.5 673V678M538.5 673V678M558.5 673V678M578.5 673V678M599.5 673V683M101 670.5H111M106 668.5H111M106 665.5H111M106 663.5H111M106 660.5H111M101 658.5H111M106 655.5H111M106 653.5H111M106 650.5H111M106 648.5H111M101 645.5H111M106 643.5H111M106 640.5H111M106 638.5H111M106 635.5H111M101 633.5H111M106 630.5H111M106 628.5H111M106 625.5H111M106 623.5H111M101 620.5H111M106 618.5H111M106 615.5H111M106 613.5H111M106 610.5H111M101 608.5H111M106 605.5H111M106 603.5H111M106 600.5H111M106 598.5H111M101 596.5H111M106 593.5H111M106 591.5H111M106 588.5H111M106 586.5H111M101 583.5H111M106 581.5H111M106 578.5H111M106 576.5H111M106 573.5H111M101 571.5H111M106 568.5H111M106 566.5H111M111.5 722.5H599.5V862.5H111.5ZM112.5 863V873M132.5 863V868M152.5 863V868M172.5 863V868M193.5 863V868M213.5 863V868M233.5 863V873M254.5 863V868M274.5 863V868M294.5 863V868M314.5 863V868M335.5 863V868M355.5 863V873M375.5 863V868M396.5 863V868M416.5 863V868M436.5 863V868M456.5 863V868M477.5 863V873M497.5 863V868M517.5 863V868M538.5 863V868M558.5 863V868M578.5 863V868M599.5 863V873M106 860.5H111M106 858.5H111M101 855.5H111M106 853.5H111M106 850.5H111M106 848.5H111M106 846.5H111M106 843.5H111M106 841.5H111M106 838.5H111M106 836.5H111M106 834.5H111M101 831.5H111M106 829.5H111M106 826.5H111M106 824.5H111M106 821.5H111M106 819.5H111M106 817.5H111M106 814.5H111M106 812.5H111M106 809.5H111M101 807.5H111M106 804.5H111M106 802.5H111M106 800.5H111M106 797.5H111M106 795.5H111M106 792.5H111M106 790.5H111M106 788.5H111M106 785.5H111M101 783.5H111M106 780.5H111M106 778.5H111M106 775.5H111M106 773.5H111M106 771.5H111M106 768.5H111M106 766.5H111M106 763.5H111M106 761.5H111M101 758.5H111M106 756.5H111M106 754.5H111M106 751.5H111M106 749.5H111M106 746.5H111M106 744.5H111M106 742.5H111M106 739.5H111M106 737.5H111M101 734.5H111M106 732.5H111M106 729.5H111M106 727.5H111M106 725.5H111M106 722.5H111M627.5 56V358M613 357.5H633M628 322.5H638M628 288.5H633M628 252.5H638M628 218.5H633M628 182.5H638M628 148.5H633M628 112.5H638M628 78.5H633"/>
<path fill="none" stroke="#000" stroke-width="1.2" stroke-linejoin="round" d="M111.6 446.4 112.1 446.9 112.6 447.5 113.1 448.2 113.6 449.0 114.1 450.2 114.6 450.5 115.1 451.7 115.6 451.9 116.1 452.6 116.6 453.5 117.1 453.9 117.6 454.6 118.1 455.0 118.6 455.6 119.1 456.2 119.6 456.9 120.1 457.4 120.6 457.7 121.1 458.6 121.6 459.0 122.1 459.5 122.6 459.9 123.1 460.2 123.6 461.3 124.1 461.4 124.6 462.0 125.1 462.7 125.6 463.1 126.1 463.4 126.6 463.9 127.1 464.4 127.6 464.9 128.1 465.3 128.6 465.6 129.1 466.2 129.6 466.7 130.1 467.2 130.6 467.5 131.1 468.1 131.6 468.4 132.1 468.9 132.6 469.2 133.1 469.6 133.6 470.0 134.1 470.5 134.6 471.0 135.1 471.6 135.6 471.8 136.1 472.1 136.6 472.6 137.1 473.3 137.6 473.5 138.1 473.8 138.6 474.4 139.1 474.5 139.6 475.2 140.1 475.5 140.6 475.8 141.1 475.3 141.6 477.6 142.1 478.7 142.6 476.2 143.1 477.9 143.6 478.8 144.1 480.6 144.6 478.5 145.1 478.4 145.6 479.6 146.1 481.8 146.6 480.3 147.1 480.8 147.6 482.5 148.1 479.3 148.6 479.5 149.1 482.7 149.6 482.9 150.1 481.2 150.6 483.2 151.1 483.0 151.6 483.4 152.1 482.7 152.6 483.3 153.1 483.1 153.6 484.2 154.1 484.1 154.6 486.1 155.1 485.3 155.6 483.4 156.1 485.4 156.6 486.6 157.1 485.7 157.6 486.6 158.1 485.7 158.6 486.5 159.1 485.2 159.6 486.9 160.1 485.0 160.6 487.7 161.1 485.2 161.6 484.8 162.1 487.4 162.6 486.9 163.1 487.3 163.6 487.8 164.1 487.5 164.6 486.9 165.1 488.1 165.6 488.3 166.1 488.6 166.6 490.1 167.1 487.7 167.6 488.5 168.1 489.1 168.6 488.2 169.1 487.5 169.6 488.1 170.1 489.6 170.6 488.3 171.1 489.1 171.6 487.8 172.1 488.9 172.6 487.8 173.1 487.6 173.6 488.4 174.1 488.3 174.6 489.5 175.1 486.6 175.6 488.5 176.1 489.4 176.6 489.1 177.1 487.4 177.6 487.1 178.1 487.2 178.6 487.8 179.1 487.7 179.6 487.7 180.1 487.9 180.6 486.3 181.1 486.1 181.6 486.0 182.1 485.8 182.6 486.8 183.1 487.1 183.6 489.1 184.1 487.1 184.6 486.5 185.1 487.7 185.6 485.6 186.1 486.5 186.6 487.0 187.1 486.7 187.6 486.2 188.1 485.4 188.6 484.4 189.1 485.3 189.6 484.7 190.1 485.8 190.6 484.8 191.1 485.3 191.6 483.1 192.1 485.3 192.6 483.4 193.1 482.5 193.6 482.5 194.1 482.9 194.6 484.3 195.1 483.6 195.6 481.6 196.1 482.5 196.6 482.0 197.1 480.3 197.6 480.6 198.1 479.3 198.6 480.1 199.1 478.1 199.6 479.5 200.1 479.1 200.6 478.9 201.1 478.6 201.6 480.1 202.1 478.4 202.6 478.7 203.1 478.9 203.6 478.7 204.1 478.2 204.6 476.7 205.1 475.9 205.6 475.9 206.1 475.8 206.6 475.9 207.1 475.5 207.6 476.3 208.1 474.8 208.6 476.2 209.1 475.2 209.6 473.4 210.1 474.3 210.6 470.5 211.1 474.1 211.6 472.8 212.1 472.4 212.6 470.1 213.1 473.6 213.6 470.6 214.1 470.3 214.6 471.0 215.1 469.4 215.6 468.4 216.1 469.3 216.6 467.4 217.1 468.5 217.6 467.5 218.1 468.0 218.6 465.3 219.1 467.1 219.6 465.8 220.1 466.8 220.6 463.9 221.1 465.7 221.6 464.2 222.1 463.8 222.6 461.8 223.1 462.5 223.6 462.0 224.1 460.1 224.6 459.2 225.1 459.5 225.6 459.2 226.1 458.4 226.6 457.8 227.1 457.1 227.6 456.4 228.1 455.8 228.6 455.0 229.1 454.7 229.6 453.9 230.1 453.3 230.6 452.5 231.1 452.2 231.6 451.5 232.1 451.0 232.6 450.7 233.1 449.8 233.6 449.4 234.1 448.9 234.6 448.4 235.1 447.7 235.6 447.3 236.1 446.9 236.6 446.3 237.1 445.9 237.6 445.8 238.1 446.1 238.6 446.1 239.1 446.2 239.6 446.7 240.1 447.4 240.6 448.1 241.1 449.2 241.6 451.9 242.1 454.7 242.6 458.4 243.1 462.0 243.6 466.2 244.1 471.2 244.6 477.2 245.1 486.0 245.6 499.2 246.1 507.1 246.6 511.9 247.1 513.8 247.6 511.3 248.1 507.7 248.6 503.6 249.1 498.7 249.6 493.6 250.1 487.7 250.6 481.4 251.1 475.1 251.6 470.3 252.1 465.2 252.6 460.4 253.1 456.1 253.6 451.3 254.1 447.2 254.6 442.6 255.1 438.3 255.6 433.6 256.1 429.5 256.6 425.5 257.1 421.2 257.6 417.4 258.1 415.2 258.6 415.7 259.1 417.6 259.6 420.6 260.1 424.9 260.6 433.9 261.1 467.2 261.6 513.8M266.6 513.8 267.1 456.0 267.6 433.5 268.1 425.2 268.6 419.0 269.1 415.9 269.6 414.7 270.1 415.0 270.6 415.9 271.1 417.5 271.6 419.2 272.1 421.5 272.6 423.5 273.1 426.3 273.6 429.5 274.1 433.6 274.6 437.5 275.1 442.0 275.6 446.6 276.1 451.0 276.6 455.4 277.1 460.0 277.6 464.9 278.1 469.9 278.6 475.0 279.1 479.8 279.6 484.6 280.1 489.2 280.6 493.6 281.1 497.9 281.6 502.8 282.1 507.4 282.6 511.1 283.1 513.1 283.6 513.1 284.1 508.9 284.6 502.1 285.1 493.7 285.6 484.8 286.1 478.0 286.6 472.6 287.1 466.9 287.6 462.0 288.1 457.2 288.6 453.8 289.1 451.7 289.6 450.2 290.1 448.7 290.6 447.3 291.1 446.8 291.6 445.8 292.1 445.5 292.6 445.5 293.1 445.6 293.6 445.7 294.1 446.0 294.6 446.2 295.1 447.2 295.6 447.3 296.1 447.7 296.6 448.4 297.1 448.8 297.6 449.9 298.1 450.2 298.6 450.9 299.1 451.6 299.6 452.1 300.1 453.2 300.6 453.1 301.1 454.3 301.6 454.7 302.1 455.8 302.6 456.0 303.1 457.8 303.6 458.0 304.1 458.0 304.6 457.6 305.1 459.5 305.6 460.1 306.1 460.0 306.6 459.8 307.1 461.3 307.6 462.1 308.1 460.7 308.6 462.7 309.1 461.6 309.6 463.2 310.1 464.6 310.6 464.0 311.1 464.7 311.6 464.6 312.1 465.2 312.6 467.0 313.1 466.7 313.6 466.1 314.1 466.4 314.6 467.1 315.1 468.8 315.6 467.9 316.1 468.8 316.6 468.2 317.1 468.0 317.6 470.0 318.1 469.4 318.6 469.3 319.1 469.7 319.6 470.0 320.1 470.4 320.6 470.1 321.1 472.0 321.6 471.8 322.1 472.5 322.6 471.9 323.1 472.6 323.6 472.8 324.1 473.7 324.6 473.7 325.1 473.7 325.6 473.3 326.1 473.2 326.6 473.7 327.1 474.0 327.6 474.3 328.1 474.1 328.6 476.1 329.1 475.5 329.6 474.3 330.1 475.1 330.6 475.2 331.1 476.4 331.6 477.1 332.1 476.1 332.6 477.3 333.1 477.0 333.6 478.1 334.1 478.4 334.6 478.0 335.1 478.5 335.6 478.2 336.1 478.2 336.6 477.9 337.1 479.0 337.6 478.9 338.1 478.9 338.6 479.2 339.1 479.3 339.6 478.9 340.1 479.3 340.6 480.5 341.1 479.8 341.6 480.9 342.1 479.4 342.6 479.4 343.1 480.4 343.6 480.9 344.1 480.2 344.6 481.0 345.1 481.3 345.6 481.5 346.1 480.8 346.6 480.9 347.1 480.0 347.6 481.1 348.1 481.3 348.6 482.0 349.1 480.4 349.6 480.7 350.1 480.7 350.6 481.9 351.1 479.8 351.6 480.7 352.1 482.7 352.6 481.9 353.1 480.7 353.6 481.5 354.1 482.1 354.6 481.9 355.1 481.4 355.6 481.1 356.1 482.1 356.6 481.6 357.1 482.1 357.6 481.8 358.1 481.2 358.6 482.3 359.1 481.1 359.6 481.6 360.1 480.8 360.6 480.9 361.1 480.8 361.6 480.4 362.1 480.8 362.6 481.3 363.1 481.5 363.6 481.1 364.1 480.0 364.6 480.9 365.1 480.1 365.6 480.8 366.1 478.8 366.6 480.4 367.1 479.0 367.6 479.9 368.1 478.8 368.6 479.5 369.1 478.7 369.6 477.6 370.1 478.0 370.6 478.3 371.1 478.3 371.6 476.8 372.1 477.3 372.6 477.4 373.1 477.6 373.6 477.7 374.1 476.9 374.6 476.3 375.1 477.2 375.6 476.7 376.1 477.2 376.6 476.2 377.1 476.6 377.6 475.5 378.1 476.0 378.6 475.6 379.1 475.6 379.6 474.5 380.1 474.8 380.6 474.1 381.1 474.3 381.6 474.5 382.1 475.6 382.6 473.6 383.1 473.7 383.6 473.1 384.1 473.5 384.6 472.8 385.1 472.9 385.6 472.2 386.1 473.2 386.6 472.3 387.1 470.1 387.6 471.0 388.1 470.6 388.6 468.9 389.1 469.4 389.6 469.4 390.1 468.9 390.6 469.1 391.1 467.6 391.6 468.8 392.1 468.5 392.6 467.9 393.1 467.2 393.6 467.0 394.1 466.4 394.6 467.0 395.1 466.2 395.6 466.7 396.1 464.9 396.6 465.6 397.1 464.0 397.6 463.8 398.1 462.9 398.6 463.4 399.1 462.6 399.6 462.6 400.1 462.0 400.6 461.4 401.1 461.0 401.6 460.6 402.1 460.0 402.6 459.5 403.1 459.1 403.6 458.7 404.1 458.2 404.6 457.7 405.1 456.9 405.6 456.6 406.1 456.2 406.6 455.4 407.1 455.0 407.6 454.3 408.1 453.9 408.6 453.6 409.1 452.9 409.6 452.2 410.1 451.9 410.6 451.4 411.1 451.1 411.6 450.2 412.1 449.7 412.6 449.2 413.1 448.4 413.6 448.2 414.1 447.2 414.6 446.9 415.1 446.3 415.6 446.0 416.1 445.9 416.6 445.6 417.1 445.4 417.6 445.3 418.1 444.9 418.6 445.5 419.1 445.5 419.6 446.2 420.1 446.9 420.6 447.6 421.1 448.5 421.6 449.4 422.1 451.8 422.6 454.4 423.1 457.9 423.6 461.6 424.1 465.6 424.6 470.1 425.1 475.9 425.6 481.7 426.1 488.6 426.6 496.4 427.1 505.7 427.6 507.8 428.1 505.4 428.6 502.0 429.1 498.1 429.6 493.9 430.1 489.1 430.6 483.6 431.1 478.2 431.6 473.5 432.1 469.5 432.6 466.0 433.1 461.8 433.6 458.4 434.1 455.1 434.6 452.4 435.1 449.6 435.6 447.7 436.1 446.1 436.6 444.7 437.1 443.3 437.6 441.5 438.1 439.1 438.6 435.7 439.1 432.1 439.6 428.5 440.1 425.2 440.6 422.4 441.1 419.2 441.6 416.3 442.1 413.8 442.6 411.8 443.1 412.0 443.6 413.5 444.1 415.7 444.6 419.2 445.1 423.9 445.6 432.9 446.1 451.3 446.6 501.5M450.4 513.7 450.9 437.8 451.4 428.1 451.9 421.3 452.4 416.3 452.9 413.2 453.4 411.9 453.9 411.9 454.4 412.6 454.9 414.1 455.4 415.9 455.9 418.3 456.4 420.5 456.9 423.4 457.4 427.1 457.9 431.6 458.4 435.8 458.9 438.6 459.4 440.9 459.9 442.7 460.4 444.2 460.9 446.2 461.4 447.9 461.9 449.7 462.4 452.6 462.9 456.2 463.4 460.2 463.9 464.5 464.4 469.0 464.9 474.3 465.4 479.2 465.9 484.5 466.4 489.3 466.9 494.7 467.4 501.2 467.9 507.4 468.4 510.9 468.9 509.3 469.4 499.2 469.9 488.8 470.4 481.4 470.9 473.9 471.4 467.3 471.9 462.2 472.4 458.8 472.9 456.5 473.4 453.9 473.9 451.6 474.4 450.0 474.9 448.2 475.4 446.9 475.9 446.3 476.4 445.8 476.9 445.5 477.4 445.9 477.9 446.2 478.4 446.4 478.9 447.3 479.4 447.5 479.9 448.2 480.4 448.5 480.9 449.7 481.4 450.2 481.9 451.1 482.4 451.4 482.9 452.5 483.4 453.1 483.9 453.7 484.4 453.5 484.9 454.6 485.4 455.1 485.9 455.2 486.4 456.1 486.9 456.8 487.4 457.6 487.9 457.8 488.4 458.5 488.9 459.0 489.4 459.7 489.9 460.1 490.4 461.6 490.9 462.2 491.4 460.4 491.9 463.5 492.4 462.1 492.9 463.1 493.4 465.0 493.9 464.5 494.4 465.5 494.9 466.2 495.4 466.5 495.9 465.9 496.4 466.0 496.9 468.1 497.4 468.6 497.9 468.7 498.4 468.7 498.9 470.2 499.4 469.8 499.9 468.9 500.4 471.1 500.9 471.8 501.4 472.5 501.9 471.3 502.4 471.9 502.9 473.4 503.4 473.1 503.9 474.0 504.4 475.4 504.9 475.3 505.4 477.2 505.9 476.1 506.4 478.0 506.9 477.8 507.4 479.7 507.9 477.7 508.4 478.0 508.9 479.8 509.4 478.4 509.9 478.9 510.4 480.0 510.9 480.6 511.4 479.3 511.9 481.3 512.4 481.2 512.9 481.9 513.4 482.5 513.9 482.6 514.4 484.3 514.9 484.1 515.4 483.8 515.9 484.5 516.4 485.9 516.9 486.0 517.4 486.8 517.9 485.8 518.4 486.4 518.9 488.7 519.4 487.0 519.9 489.0 520.4 488.5 520.9 487.6 521.4 486.9 521.9 489.3 522.4 488.2 522.9 488.5 523.4 487.8 523.9 491.0 524.4 490.2 524.9 490.4 525.4 491.1 525.9 491.2 526.4 491.3 526.9 492.0 527.4 491.5 527.9 489.5 528.4 493.1 528.9 493.1 529.4 493.0 529.9 494.9 530.4 492.2 530.9 491.1 531.4 495.7 531.9 494.9 532.4 493.2 532.9 494.6 533.4 495.8 533.9 494.2 534.4 496.0 534.9 497.6 535.4 496.9 535.9 495.5 536.4 495.8 536.9 494.6 537.4 495.6 537.9 495.2 538.4 494.5 538.9 494.2 539.4 497.4 539.9 495.6 540.4 494.5 540.9 495.1 541.4 497.0 541.9 497.1 542.4 494.9 542.9 495.7 543.4 496.4 543.9 495.1 544.4 494.3 544.9 494.4 545.4 495.4 545.9 494.6 546.4 494.0 546.9 495.0 547.4 496.1 547.9 495.8 548.4 494.8 548.9 496.9 549.4 494.2 549.9 494.8 550.4 493.4 550.9 495.5 551.4 494.5 551.9 492.9 552.4 493.7 552.9 496.2 553.4 495.0 553.9 494.3 554.4 494.9 554.9 492.3 555.4 492.9 555.9 492.3 556.4 492.6 556.9 492.9 557.4 493.6 557.9 493.9 558.4 493.7 558.9 495.2 559.4 491.8 559.9 492.1 560.4 492.4 560.9 490.8 561.4 491.0 561.9 491.4 562.4 489.7 562.9 490.7 563.4 491.0 563.9 488.3 564.4 486.7 564.9 488.6 565.4 487.0 565.9 487.8 566.4 486.8 566.9 487.1 567.4 487.6 567.9 486.9 568.4 485.3 568.9 484.2 569.4 482.5 569.9 482.5 570.4 483.5 570.9 484.0 571.4 482.9 571.9 482.6 572.4 481.3 572.9 480.8 573.4 480.4 573.9 482.4 574.4 479.4 574.9 481.7 575.4 479.7 575.9 480.7 576.4 480.0 576.9 480.1 577.4 480.1 577.9 477.8 578.4 477.1 578.9 477.2 579.4 476.4 579.9 477.3 580.4 476.1 580.9 475.6 581.4 475.2 581.9 474.5 582.4 474.2 582.9 473.2 583.4 473.0 583.9 472.5 584.4 471.7 584.9 471.2 585.4 470.8 585.9 470.1 586.4 469.3 586.9 468.8 587.4 468.5 587.9 467.7 588.4 467.4 588.9 466.9 589.4 466.1 589.9 465.6 590.4 464.8 590.9 464.3 591.4 463.7 591.9 463.3 592.4 462.4 592.9 462.0 593.4 461.5 593.9 460.9 594.4 459.9 594.9 459.4 595.4 458.9 595.9 458.4 596.4 457.8 596.9 457.2 597.4 456.9 597.9 456.1 598.4 455.4M525.5 488V514M526.5 490V514M536.5 492V514M511.5 476V484M526.5 484V490M552 486V494M562 483V490"/>
<path fill="none" stroke="#000" stroke-width="1.3" stroke-linejoin="round" d="M111.6 614.0 112.1 614.7 112.6 615.5 113.1 616.2 113.6 616.9 114.1 617.6 114.6 618.2 115.1 618.9 115.6 619.5 116.1 620.1 116.6 620.7 117.1 621.3 117.6 621.9 118.1 622.4 118.6 623.0 119.1 623.5 119.6 624.0 120.1 624.5 120.6 625.0 121.1 625.5 121.6 626.0 122.1 626.5 122.6 627.0 123.1 627.4 123.6 627.9 124.1 628.3 124.6 628.7 125.1 629.2 125.6 629.6 126.1 630.0 126.6 630.5 127.1 630.9 127.6 631.3 128.1 631.7 128.6 632.1 129.1 632.5 129.6 632.9 130.1 633.2 130.6 633.6 131.1 633.9 131.6 634.3 132.1 634.6 132.6 634.9 133.1 635.2 133.6 635.5 134.1 635.8 134.6 636.0 135.1 636.3 135.6 636.5 136.1 636.8 136.6 637.0 137.1 637.3 137.6 637.5 138.1 637.7 138.6 637.9 139.1 638.2 139.6 638.4 140.1 638.6 140.6 638.8 141.1 639.0 141.6 639.2 142.1 639.4 142.6 639.5 143.1 639.7 143.6 639.9 144.1 640.1 144.6 640.2 145.1 640.4 145.6 640.6 146.1 640.7 146.6 640.9 147.1 641.0 147.6 641.2 148.1 641.4 148.6 641.5 149.1 641.6 149.6 641.8 150.1 641.9 150.6 642.1 151.1 642.2 151.6 642.3 152.1 642.4 152.6 642.6 153.1 642.7 153.6 642.8 154.1 642.9 154.6 643.0 155.1 643.1 155.6 643.2 156.1 643.3 156.6 643.4 157.1 643.5 157.6 643.6 158.1 643.7 158.6 643.8 159.1 643.9 159.6 643.9 160.1 644.0 160.6 644.1 161.1 644.2 161.6 644.3 162.1 644.3 162.6 644.4 163.1 644.5 163.6 644.6 164.1 644.6 164.6 644.7 165.1 644.8 165.6 644.8 166.1 644.9 166.6 644.9 167.1 645.0 167.6 645.0 168.1 645.1 168.6 645.2 169.1 645.2 169.6 645.3 170.1 645.3 170.6 645.4 171.1 645.4 171.6 645.5 172.1 645.5 172.6 645.6 173.1 645.7 173.6 645.7 174.1 645.8 174.6 645.8 175.1 645.9 175.6 645.9 176.1 645.9 176.6 646.0 177.1 646.0 177.6 646.1 178.1 646.1 178.6 646.1 179.1 646.2 179.6 646.2 180.1 646.2 180.6 646.2 181.1 646.3 181.6 646.3 182.1 646.3 182.6 646.3 183.1 646.3 183.6 646.3 184.1 646.3 184.6 646.3 185.1 646.3 185.6 646.3 186.1 646.3 186.6 646.3 187.1 646.3 187.6 646.3 188.1 646.3 188.6 646.3 189.1 646.3 189.6 646.3 190.1 646.3 190.6 646.3 191.1 646.3 191.6 646.3 192.1 646.3 192.6 646.3 193.1 646.3 193.6 646.3 194.1 646.3 194.6 646.3 195.1 646.3 195.6 646.3 196.1 646.3 196.6 646.3 197.1 646.3 197.6 646.3 198.1 646.3 198.6 646.3 199.1 646.3 199.6 646.3 200.1 646.3 200.6 646.3 201.1 646.3 201.6 646.3 202.1 646.3 202.6 646.3 203.1 646.3 203.6 646.3 204.1 646.3 204.6 646.3 205.1 646.3 205.6 646.2 206.1 646.2 206.6 646.2 207.1 646.2 207.6 646.2 208.1 646.2 208.6 646.2 209.1 646.1 209.6 646.1 210.1 646.1 210.6 646.1 211.1 646.1 211.6 646.1 212.1 646.0 212.6 646.0 213.1 646.0 213.6 646.0 214.1 646.0 214.6 646.0 215.1 646.0 215.6 645.9 216.1 645.9 216.6 645.9 217.1 645.9 217.6 645.9 218.1 645.9 218.6 645.9 219.1 645.9 219.6 645.9 220.1 645.9 220.6 645.9 221.1 645.9 221.6 646.0 222.1 646.0 222.6 646.0 223.1 646.1 223.6 646.1 224.1 646.1 224.6 646.2 225.1 646.2 225.6 646.3 226.1 646.3 226.6 646.4 227.1 646.4 227.6 646.5 228.1 646.5 228.6 646.6 229.1 646.6 229.6 646.7 230.1 646.8 230.6 646.9 231.1 647.0 231.6 647.1 232.1 647.2 232.6 647.3 233.1 647.4 233.6 647.4 234.1 647.5 234.6 647.6 235.1 647.7 235.6 647.7 236.1 647.8 236.6 647.9 237.1 647.9 237.6 648.0 238.1 648.1 238.6 648.1 239.1 648.2 239.6 648.2 240.1 648.3 240.6 648.3 241.1 648.4 241.6 648.4 242.1 648.4 242.6 648.4 243.1 648.4 243.6 648.4 244.1 648.4 244.6 648.3 245.1 648.3 245.6 648.2 246.1 648.2 246.6 648.1 247.1 648.0 247.6 647.9 248.1 647.8 248.6 647.7 249.1 647.6 249.6 647.5 250.1 647.3 250.6 646.9 251.1 646.5 251.6 646.0 252.1 645.4 252.6 644.8 253.1 644.1 253.6 643.3 254.1 642.5 254.6 641.7 255.1 640.9 255.6 640.0 256.1 639.0 256.6 637.8 257.1 636.4 257.6 634.8 258.1 632.9 258.6 630.3 259.1 626.3 259.6 621.5 260.1 616.4 260.6 611.6 261.1 606.5 261.6 601.2 262.1 595.9 262.6 590.9 263.1 585.9 263.6 580.4 264.1 575.7 264.6 573.3 265.1 574.6 265.6 579.2 266.1 585.3 266.6 591.1 267.1 596.7 267.6 602.9 268.1 609.0 268.6 614.1 269.1 617.9 269.6 621.4 270.1 624.6 270.6 627.5 271.1 630.0 271.6 632.0 272.1 633.4 272.6 634.4 273.1 635.3 273.6 636.1 274.1 636.9 274.6 637.5 275.1 637.9 275.6 638.2 276.1 638.3 276.6 638.3 277.1 638.1 277.6 638.0 278.1 637.7 278.6 637.5 279.1 637.2 279.6 636.9 280.1 636.6 280.6 636.2 281.1 635.7 281.6 635.1 282.1 634.5 282.6 633.8 283.1 633.2 283.6 632.5 284.1 631.8 284.6 631.1 285.1 630.4 285.6 629.8 286.1 629.2 286.6 628.7 287.1 628.1 287.6 627.6 288.1 627.1 288.6 626.6 289.1 626.1 289.6 625.6 290.1 625.1 290.6 624.6 291.1 624.1 291.6 623.6 292.1 623.1 292.6 622.6 293.1 622.1 293.6 621.6 294.1 621.1 294.6 620.6 295.1 620.1 295.6 619.6 296.1 619.1 296.6 618.6 297.1 618.1 297.6 617.6 298.1 617.0 298.6 616.5 299.1 616.0 299.6 615.5 300.1 615.0 300.6 614.5 301.1 614.0 301.6 613.6 302.1 613.1 302.6 612.6 303.1 612.1 303.6 611.6 304.1 611.2 304.6 610.7 305.1 610.2 305.6 609.7 306.1 609.3 306.6 608.8 307.1 608.3 307.6 607.9 308.1 607.4 308.6 606.9 309.1 606.5 309.6 606.1 310.1 605.6 310.6 605.2 311.1 604.8 311.6 604.3 312.1 603.9 312.6 603.5 313.1 603.1 313.6 602.7 314.1 602.4 314.6 602.0 315.1 601.6 315.6 601.2 316.1 600.8 316.6 600.5 317.1 600.1 317.6 599.8 318.1 599.4 318.6 599.1 319.1 598.7 319.6 598.4 320.1 598.0 320.6 597.7 321.1 597.4 321.6 597.0 322.1 596.7 322.6 596.4 323.1 596.1 323.6 595.8 324.1 595.5 324.6 595.2 325.1 594.9 325.6 594.6 326.1 594.3 326.6 594.0 327.1 593.7 327.6 593.4 328.1 593.1 328.6 592.8 329.1 592.5 329.6 592.3 330.1 592.0 330.6 591.7 331.1 591.4 331.6 591.2 332.1 590.9 332.6 590.6 333.1 590.4 333.6 590.1 334.1 589.9 334.6 589.6 335.1 589.4 335.6 589.1 336.1 588.9 336.6 588.6 337.1 588.4 337.6 588.1 338.1 587.9 338.6 587.6 339.1 587.4 339.6 587.2 340.1 586.9 340.6 586.7 341.1 586.5 341.6 586.2 342.1 586.0 342.6 585.8 343.1 585.6 343.6 585.3 344.1 585.1 344.6 584.9 345.1 584.7 345.6 584.5 346.1 584.3 346.6 584.1 347.1 583.9 347.6 583.6 348.1 583.4 348.6 583.2 349.1 583.0 349.6 582.8 350.1 582.6 350.6 582.4 351.1 582.2 351.6 582.0 352.1 581.8 352.6 581.6 353.1 581.4 353.6 581.2 354.1 581.0 354.6 580.8 355.1 580.6 355.6 580.4 356.1 580.3 356.6 580.1 357.1 579.9 357.6 579.7 358.1 579.5 358.6 579.3 359.1 579.1 359.6 579.0 360.1 578.8 360.6 578.6 361.1 578.4 361.6 578.3 362.1 578.1 362.6 577.9 363.1 577.8 363.6 577.6 364.1 577.5 364.6 577.3 365.1 577.1 365.6 577.0 366.1 576.8 366.6 576.7 367.1 576.5 367.6 576.4 368.1 576.2 368.6 576.1 369.1 576.0 369.6 575.8 370.1 575.7 370.6 575.5 371.1 575.4 371.6 575.3 372.1 575.1 372.6 575.0 373.1 574.8 373.6 574.7 374.1 574.6 374.6 574.4 375.1 574.3 375.6 574.2 376.1 574.0 376.6 573.9 377.1 573.8 377.6 573.7 378.1 573.5 378.6 573.4 379.1 573.3 379.6 573.2 380.1 573.0 380.6 572.9 381.1 572.8 381.6 572.7 382.1 572.6 382.6 572.4 383.1 572.3 383.6 572.2 384.1 572.1 384.6 572.0 385.1 571.9 385.6 571.7 386.1 571.6 386.6 571.5 387.1 571.3 387.6 571.2 388.1 571.1 388.6 570.9 389.1 570.8 389.6 570.7 390.1 570.6 390.6 570.6 391.1 570.5 391.6 570.4 392.1 570.4 392.6 570.4 393.1 570.4 393.6 570.4 394.1 570.5 394.6 570.5 395.1 570.6 395.6 570.7 396.1 570.8 396.6 570.9 397.1 571.0 397.6 571.1 398.1 571.2 398.6 571.3 399.1 571.4 399.6 571.5 400.1 571.6 400.6 571.6 401.1 571.7 401.6 571.8 402.1 571.8 402.6 571.9 403.1 571.9 403.6 571.9 404.1 571.9 404.6 571.8 405.1 571.8 405.6 571.7 406.1 571.7 406.6 571.6 407.1 571.5 407.6 571.4 408.1 571.3 408.6 571.2 409.1 571.1 409.6 571.0 410.1 570.9 410.6 570.8 411.1 570.7 411.6 570.6 412.1 570.5 412.6 570.5 413.1 570.4 413.6 570.4 414.1 570.4 414.6 570.4 415.1 570.5 415.6 570.6 416.1 570.7 416.6 570.9 417.1 571.0 417.6 571.2 418.1 571.4 418.6 571.7 419.1 571.9 419.6 572.1 420.1 572.3 420.6 572.6 421.1 572.9 421.6 573.2 422.1 573.6 422.6 573.9 423.1 574.3 423.6 574.7 424.1 575.1 424.6 575.6 425.1 576.0 425.6 576.5 426.1 576.9 426.6 577.4 427.1 577.9 427.6 578.4 428.1 579.0 428.6 579.5 429.1 580.2 429.6 580.8 430.1 581.4 430.6 582.1 431.1 582.7 431.6 583.4 432.1 584.1 432.6 584.9 433.1 585.8 433.6 586.8 434.1 587.8 434.6 588.9 435.1 589.9 435.6 590.8 436.1 591.7 436.6 592.4 437.1 592.9 437.6 593.2 438.1 593.3 438.6 592.9 439.1 592.0 439.6 590.8 440.1 589.4 440.6 587.5 441.1 584.2 441.6 580.1 442.1 576.2 442.6 573.7 443.1 573.5 443.6 576.4 444.1 581.0 444.6 585.6 445.1 588.5 445.6 587.9 446.1 583.3 446.6 577.6 447.1 573.6 447.6 574.0 448.1 577.9 448.6 583.8 449.1 589.8 449.6 594.3 450.1 595.6 450.6 594.6 451.1 592.4 451.6 589.4 452.1 585.8 452.6 582.0 453.1 578.4 453.6 575.3 454.1 572.9 454.6 571.6 455.1 571.7 455.6 573.0 456.1 575.1 456.6 577.8 457.1 580.9 457.6 584.0 458.1 587.0 458.6 589.6 459.1 591.7 459.6 593.7 460.1 595.8 460.6 597.8 461.1 599.7 461.6 601.5 462.1 603.3 462.6 604.9 463.1 606.4 463.6 607.8 464.1 609.1 464.6 610.3 465.1 611.5 465.6 612.7 466.1 613.8 466.6 614.8 467.1 615.8 467.6 616.8 468.1 617.7 468.6 618.6 469.1 619.5 469.6 620.4 470.1 621.3 470.6 622.1 471.1 622.9 471.6 623.6 472.1 624.4 472.6 625.1 473.1 625.9 473.6 626.6 474.1 627.3 474.6 627.9 475.1 628.6 475.6 629.2 476.1 629.9 476.6 630.5 477.1 631.0 477.6 631.6 478.1 632.2 478.6 632.7 479.1 633.3 479.6 633.8 480.1 634.3 480.6 634.9 481.1 635.4 481.6 635.9 482.1 636.5 482.6 637.0 483.1 637.5 483.6 638.1 484.1 638.6 484.6 639.1 485.1 639.7 485.6 640.2 486.1 640.7 486.6 641.2 487.1 641.6 487.6 642.1 488.1 642.5 488.6 642.9 489.1 643.4 489.6 643.8 490.1 644.1 490.6 644.5 491.1 644.9 491.6 645.3 492.1 645.6 492.6 646.0 493.1 646.3 493.6 646.7 494.1 647.0 494.6 647.3 495.1 647.7 495.6 648.0 496.1 648.3 496.6 648.6 497.1 648.9 497.6 649.2 498.1 649.5 498.6 649.7 499.1 650.0 499.6 650.3 500.1 650.6 500.6 650.8 501.1 651.1 501.6 651.3 502.1 651.6 502.6 651.9 503.1 652.1 503.6 652.3 504.1 652.6 504.6 652.8 505.1 653.1 505.6 653.3 506.1 653.5 506.6 653.7 507.1 654.0 507.6 654.2 508.1 654.4 508.6 654.6 509.1 654.9 509.6 655.1 510.1 655.3 510.6 655.5 511.1 655.7 511.6 655.9 512.1 656.1 512.6 656.3 513.1 656.5 513.6 656.7 514.1 656.9 514.6 657.1 515.1 657.3 515.6 657.5 516.1 657.7 516.6 657.9 517.1 658.1 517.6 658.3 518.1 658.4 518.6 658.6 519.1 658.8 519.6 659.0 520.1 659.2 520.6 659.3 521.1 659.5 521.6 659.7 522.1 659.9 522.6 660.0 523.1 660.2 523.6 660.4 524.1 660.6 524.6 660.7 525.1 660.9 525.6 661.1 526.1 661.2 526.6 661.4 527.1 661.6 527.6 661.8 528.1 661.9 528.6 662.1 529.1 662.3 529.6 662.4 530.1 662.6 530.6 662.7 531.1 662.9 531.6 663.1 532.1 663.2 532.6 663.4 533.1 663.5 533.6 663.7 534.1 663.8 534.6 664.0 535.1 664.1 535.6 664.3 536.1 664.4 536.6 664.6 537.1 664.7 537.6 664.8 538.1 665.0 538.6 665.1 539.1 665.2 539.6 665.4 540.1 665.5 540.6 665.6 541.1 665.7 541.6 665.8 542.1 666.0 542.6 666.1 543.1 666.2 543.6 666.3 544.1 666.4 544.6 666.6 545.1 666.7 545.6 666.8 546.1 666.9 546.6 667.0 547.1 667.1 547.6 667.2 548.1 667.3 548.6 667.4 549.1 667.5 549.6 667.6 550.1 667.7 550.6 667.8 551.1 667.9 551.6 668.0 552.1 668.1 552.6 668.2 553.1 668.2 553.6 668.3 554.1 668.4 554.6 668.5 555.1 668.6 555.6 668.6 556.1 668.7 556.6 668.8 557.1 668.9 557.6 668.9 558.1 669.0 558.6 669.1 559.1 669.2 559.6 669.2 560.1 669.3 560.6 669.4 561.1 669.4 561.6 669.5 562.1 669.6 562.6 669.6 563.1 669.7 563.6 669.7 564.1 669.8 564.6 669.9 565.1 669.9 565.6 670.0 566.1 670.0 566.6 670.0 567.1 670.1 567.6 670.1 568.1 670.2 568.6 670.2 569.1 670.3 569.6 670.3 570.1 670.4 570.6 670.4 571.1 670.4 571.6 670.5 572.1 670.5 572.6 670.6 573.1 670.6 573.6 670.6 574.1 670.7 574.6 670.7 575.1 670.8 575.6 670.8 576.1 670.8 576.6 670.8 577.1 670.9 577.6 670.9 578.1 670.9 578.6 670.9 579.1 671.0 579.6 671.0 580.1 671.0 580.6 671.0 581.1 671.0 581.6 671.0 582.1 671.0 582.6 671.0 583.1 671.0 583.6 671.0 584.1 671.0 584.6 671.0 585.1 671.0 585.6 671.0 586.1 671.0 586.6 671.0 587.1 671.0 587.6 671.0 588.1 671.0 588.6 671.0 589.1 671.0 589.6 671.0 590.1 671.0 590.6 671.0 591.1 671.0 591.6 671.0 592.1 671.0 592.6 670.9 593.1 670.9 593.6 670.9 594.1 670.9 594.6 670.8 595.1 670.8 595.6 670.8 596.1 670.7 596.6 670.7 597.1 670.6 597.6 670.6 598.1 670.5 598.6 670.5"/>
<path fill="none" stroke="#000" stroke-width="1.3" stroke-linejoin="round" d="M111.6 783.3 112.1 782.1 112.6 781.0 113.1 779.9 113.6 778.7 114.1 777.7 114.6 776.6 115.1 775.5 115.6 774.5 116.1 773.5 116.6 772.5 117.1 771.5 117.6 770.5 118.1 769.6 118.6 768.7 119.1 767.7 119.6 766.8 120.1 766.0 120.6 765.1 121.1 764.3 121.6 763.4 122.1 762.6 122.6 761.8 123.1 761.0 123.6 760.3 124.1 759.5 124.6 758.8 125.1 758.0 125.6 757.3 126.1 756.6 126.6 756.0 127.1 755.3 127.6 754.6 128.1 754.0 128.6 753.4 129.1 752.7 129.6 752.1 130.1 751.5 130.6 751.0 131.1 750.4 131.6 749.8 132.1 749.3 132.6 748.8 133.1 748.2 133.6 747.7 134.1 747.2 134.6 746.7 135.1 746.2 135.6 745.8 136.1 745.3 136.6 744.9 137.1 744.4 137.6 744.0 138.1 743.5 138.6 743.1 139.1 742.7 139.6 742.3 140.1 741.9 140.6 741.5 141.1 741.2 141.6 740.8 142.1 740.4 142.6 740.1 143.1 739.7 143.6 739.4 144.1 739.0 144.6 738.7 145.1 738.3 145.6 738.0 146.1 737.7 146.6 737.4 147.1 737.1 147.6 736.8 148.1 736.5 148.6 736.2 149.1 735.9 149.6 735.7 150.1 735.4 150.6 735.1 151.1 734.9 151.6 734.6 152.1 734.4 152.6 734.1 153.1 733.9 153.6 733.7 154.1 733.4 154.6 733.2 155.1 733.0 155.6 732.8 156.1 732.6 156.6 732.4 157.1 732.2 157.6 732.0 158.1 731.8 158.6 731.7 159.1 731.5 159.6 731.3 160.1 731.2 160.6 731.0 161.1 730.9 161.6 730.8 162.1 730.6 162.6 730.5 163.1 730.4 163.6 730.3 164.1 730.1 164.6 730.0 165.1 729.9 165.6 729.8 166.1 729.8 166.6 729.7 167.1 729.6 167.6 729.5 168.1 729.5 168.6 729.4 169.1 729.4 169.6 729.3 170.1 729.3 170.6 729.2 171.1 729.2 171.6 729.2 172.1 729.1 172.6 729.1 173.1 729.1 173.6 729.1 174.1 729.1 174.6 729.1 175.1 729.1 175.6 729.2 176.1 729.2 176.6 729.2 177.1 729.2 177.6 729.3 178.1 729.3 178.6 729.4 179.1 729.4 179.6 729.5 180.1 729.6 180.6 729.6 181.1 729.7 181.6 729.8 182.1 729.9 182.6 730.0 183.1 730.1 183.6 730.2 184.1 730.3 184.6 730.4 185.1 730.5 185.6 730.7 186.1 730.8 186.6 730.9 187.1 731.1 187.6 731.2 188.1 731.4 188.6 731.6 189.1 731.7 189.6 731.9 190.1 732.1 190.6 732.3 191.1 732.5 191.6 732.7 192.1 732.9 192.6 733.1 193.1 733.3 193.6 733.5 194.1 733.8 194.6 734.0 195.1 734.3 195.6 734.5 196.1 734.8 196.6 735.0 197.1 735.3 197.6 735.6 198.1 735.9 198.6 736.2 199.1 736.5 199.6 736.8 200.1 737.1 200.6 737.4 201.1 737.8 201.6 738.1 202.1 738.5 202.6 738.8 203.1 739.2 203.6 739.6 204.1 739.9 204.6 740.3 205.1 740.7 205.6 741.1 206.1 741.5 206.6 742.0 207.1 742.4 207.6 742.8 208.1 743.3 208.6 743.7 209.1 744.2 209.6 744.7 210.1 745.1 210.6 745.6 211.1 746.1 211.6 746.6 212.1 747.2 212.6 747.7 213.1 748.2 213.6 748.8 214.1 749.3 214.6 749.9 215.1 750.4 215.6 751.0 216.1 751.6 216.6 752.2 217.1 752.8 217.6 753.4 218.1 754.1 218.6 754.7 219.1 755.4 219.6 756.0 220.1 756.7 220.6 757.4 221.1 758.1 221.6 758.7 222.1 759.5 222.6 760.2 223.1 760.9 223.6 761.6 224.1 762.4 224.6 763.2 225.1 763.9 225.6 764.7 226.1 765.5 226.6 766.3 227.1 767.1 227.6 767.9 228.1 768.8 228.6 769.6 229.1 770.5 229.6 771.3 230.1 772.2 230.6 773.1 231.1 774.0 231.6 775.0 232.1 775.9 232.6 776.8 233.1 777.8 233.6 778.8 234.1 779.8 234.6 780.8 235.1 781.8 235.6 782.8 236.1 783.9 236.6 784.9 237.1 786.0 237.6 787.1 238.1 788.2 238.6 789.3 239.1 790.4 239.6 791.6 240.1 792.8 240.6 794.0 241.1 795.2 241.6 796.4 242.1 797.6 242.6 798.9 243.1 800.2 243.6 801.5 244.1 802.8 244.6 804.1 245.1 805.5 245.6 806.8 246.1 808.2 246.6 809.6 247.1 811.1 247.6 812.5 248.1 814.0 248.6 815.5 249.1 817.0 249.6 818.5 250.1 820.1 250.6 821.6 251.1 823.2 251.6 824.8 252.1 826.5 252.6 828.1 253.1 829.7 253.6 831.3 254.1 832.9 254.6 834.4 255.1 836.0 255.6 837.5 256.1 839.0 256.6 840.4 257.1 841.8 257.6 843.2 258.1 844.5 258.6 845.7 259.1 846.8 259.6 847.9 260.1 848.9 260.6 849.9 261.1 850.7 261.6 851.5 262.1 852.1 262.6 852.6 263.1 853.1 263.6 853.4 264.1 853.6 264.6 853.7 265.1 853.6 265.6 853.4 266.1 853.1 266.6 852.6 267.1 851.9 267.6 851.2 268.1 850.2 268.6 849.1 269.1 847.9 269.6 846.5 270.1 845.1 270.6 843.5 271.1 842.0 271.6 840.3 272.1 838.7 272.6 837.1 273.1 835.4 273.6 833.8 274.1 832.2 274.6 830.6 275.1 829.1 275.6 827.6 276.1 826.0 276.6 824.5 277.1 823.1 277.6 821.6 278.1 820.2 278.6 818.8 279.1 817.4 279.6 816.0 280.1 814.7 280.6 813.3 281.1 812.0 281.6 810.7 282.1 809.4 282.6 808.2 283.1 806.9 283.6 805.7 284.1 804.5 284.6 803.3 285.1 802.1 285.6 800.9 286.1 799.8 286.6 798.6 287.1 797.5 287.6 796.4 288.1 795.3 288.6 794.3 289.1 793.2 289.6 792.1 290.1 791.1 290.6 790.1 291.1 789.1 291.6 788.1 292.1 787.1 292.6 786.1 293.1 785.1 293.6 784.2 294.1 783.2 294.6 782.3 295.1 781.4 295.6 780.4 296.1 779.5 296.6 778.7 297.1 777.8 297.6 776.9 298.1 776.0 298.6 775.2 299.1 774.4 299.6 773.5 300.1 772.7 300.6 771.9 301.1 771.1 301.6 770.3 302.1 769.6 302.6 768.8 303.1 768.0 303.6 767.3 304.1 766.6 304.6 765.8 305.1 765.1 305.6 764.4 306.1 763.7 306.6 763.0 307.1 762.4 307.6 761.7 308.1 761.0 308.6 760.4 309.1 759.7 309.6 759.1 310.1 758.5 310.6 757.9 311.1 757.3 311.6 756.7 312.1 756.1 312.6 755.5 313.1 755.0 313.6 754.4 314.1 753.9 314.6 753.3 315.1 752.8 315.6 752.3 316.1 751.8 316.6 751.3 317.1 750.8 317.6 750.3 318.1 749.8 318.6 749.4 319.1 748.9 319.6 748.5 320.1 748.0 320.6 747.6 321.1 747.2 321.6 746.7 322.1 746.3 322.6 745.9 323.1 745.5 323.6 745.2 324.1 744.8 324.6 744.4 325.1 744.0 325.6 743.7 326.1 743.3 326.6 743.0 327.1 742.7 327.6 742.4 328.1 742.0 328.6 741.7 329.1 741.4 329.6 741.1 330.1 740.8 330.6 740.6 331.1 740.3 331.6 740.0 332.1 739.8 332.6 739.5 333.1 739.3 333.6 739.0 334.1 738.8 334.6 738.6 335.1 738.4 335.6 738.2 336.1 738.0 336.6 737.8 337.1 737.6 337.6 737.4 338.1 737.2 338.6 737.0 339.1 736.9 339.6 736.7 340.1 736.6 340.6 736.4 341.1 736.3 341.6 736.1 342.1 736.0 342.6 735.9 343.1 735.8 343.6 735.7 344.1 735.5 344.6 735.4 345.1 735.4 345.6 735.3 346.1 735.2 346.6 735.1 347.1 735.0 347.6 735.0 348.1 734.9 348.6 734.9 349.1 734.8 349.6 734.8 350.1 734.7 350.6 734.7 351.1 734.6 351.6 734.6 352.1 734.6 352.6 734.6 353.1 734.6 353.6 734.6 354.1 734.6 354.6 734.6 355.1 734.6 355.6 734.6 356.1 734.6 356.6 734.6 357.1 734.7 357.6 734.7 358.1 734.7 358.6 734.8 359.1 734.8 359.6 734.9 360.1 734.9 360.6 735.0 361.1 735.0 361.6 735.1 362.1 735.2 362.6 735.3 363.1 735.4 363.6 735.4 364.1 735.5 364.6 735.6 365.1 735.8 365.6 735.9 366.1 736.0 366.6 736.1 367.1 736.2 367.6 736.4 368.1 736.5 368.6 736.7 369.1 736.8 369.6 737.0 370.1 737.1 370.6 737.3 371.1 737.5 371.6 737.6 372.1 737.8 372.6 738.0 373.1 738.2 373.6 738.4 374.1 738.6 374.6 738.9 375.1 739.1 375.6 739.3 376.1 739.5 376.6 739.8 377.1 740.0 377.6 740.3 378.1 740.6 378.6 740.8 379.1 741.1 379.6 741.4 380.1 741.7 380.6 742.0 381.1 742.3 381.6 742.6 382.1 742.9 382.6 743.2 383.1 743.5 383.6 743.9 384.1 744.2 384.6 744.6 385.1 744.9 385.6 745.3 386.1 745.7 386.6 746.0 387.1 746.4 387.6 746.8 388.1 747.2 388.6 747.6 389.1 748.0 389.6 748.5 390.1 748.9 390.6 749.3 391.1 749.8 391.6 750.2 392.1 750.7 392.6 751.2 393.1 751.6 393.6 752.1 394.1 752.6 394.6 753.1 395.1 753.6 395.6 754.1 396.1 754.7 396.6 755.2 397.1 755.7 397.6 756.3 398.1 756.8 398.6 757.4 399.1 758.0 399.6 758.6 400.1 759.2 400.6 759.7 401.1 760.4 401.6 761.0 402.1 761.6 402.6 762.2 403.1 762.9 403.6 763.5 404.1 764.2 404.6 764.8 405.1 765.5 405.6 766.2 406.1 766.9 406.6 767.6 407.1 768.3 407.6 769.0 408.1 769.8 408.6 770.5 409.1 771.3 409.6 772.0 410.1 772.8 410.6 773.6 411.1 774.3 411.6 775.1 412.1 775.9 412.6 776.8 413.1 777.6 413.6 778.4 414.1 779.3 414.6 780.1 415.1 781.0 415.6 781.8 416.1 782.7 416.6 783.6 417.1 784.5 417.6 785.4 418.1 786.3 418.6 787.3 419.1 788.2 419.6 789.2 420.1 790.1 420.6 791.1 421.1 792.1 421.6 793.1 422.1 794.1 422.6 795.1 423.1 796.1 423.6 797.1 424.1 798.2 424.6 799.2 425.1 800.3 425.6 801.4 426.1 802.5 426.6 803.6 427.1 804.7 427.6 805.8 428.1 806.9 428.6 808.0 429.1 809.2 429.6 810.3 430.1 811.5 430.6 812.7 431.1 813.9 431.6 815.1 432.1 816.3 432.6 817.5 433.1 818.7 433.6 820.0 434.1 821.2 434.6 822.5 435.1 823.8 435.6 825.1 436.1 826.4 436.6 827.7 437.1 829.0 437.6 830.3 438.1 831.7 438.6 833.0 439.1 834.4 439.6 835.8 440.1 837.1 440.6 838.5 441.1 839.9 441.6 841.3 442.1 842.7 442.6 844.0 443.1 845.3 443.6 846.5 444.1 847.7 444.6 848.8 445.1 849.8 445.6 850.7 446.1 851.5 446.6 852.1 447.1 852.7 447.6 853.1 448.1 853.4 448.6 853.5 449.1 853.4 449.6 853.3 450.1 853.0 450.6 852.5 451.1 852.0 451.6 851.3 452.1 850.6 452.6 849.7 453.1 848.8 453.6 847.8 454.1 846.7 454.6 845.5 455.1 844.3 455.6 843.0 456.1 841.7 456.6 840.4 457.1 839.0 457.6 837.6 458.1 836.2 458.6 834.7 459.1 833.3 459.6 831.9 460.1 830.5 460.6 829.1 461.1 827.6 461.6 826.2 462.1 824.9 462.6 823.5 463.1 822.1 463.6 820.7 464.1 819.4 464.6 818.0 465.1 816.6 465.6 815.3 466.1 814.0 466.6 812.6 467.1 811.3 467.6 810.0 468.1 808.7 468.6 807.4 469.1 806.1 469.6 804.9 470.1 803.6 470.6 802.4 471.1 801.1 471.6 799.9 472.1 798.6 472.6 797.4 473.1 796.2 473.6 795.0 474.1 793.8 474.6 792.7 475.1 791.5 475.6 790.4 476.1 789.2 476.6 788.1 477.1 787.0 477.6 785.9 478.1 784.8 478.6 783.7 479.1 782.6 479.6 781.6 480.1 780.5 480.6 779.5 481.1 778.5 481.6 777.5 482.1 776.5 482.6 775.5 483.1 774.5 483.6 773.6 484.1 772.6 484.6 771.7 485.1 770.8 485.6 769.9 486.1 769.0 486.6 768.1 487.1 767.3 487.6 766.4 488.1 765.6 488.6 764.8 489.1 764.0 489.6 763.2 490.1 762.4 490.6 761.6 491.1 760.9 491.6 760.1 492.1 759.4 492.6 758.7 493.1 758.0 493.6 757.3 494.1 756.6 494.6 755.9 495.1 755.3 495.6 754.6 496.1 754.0 496.6 753.3 497.1 752.7 497.6 752.1 498.1 751.5 498.6 750.9 499.1 750.3 499.6 749.7 500.1 749.2 500.6 748.6 501.1 748.0 501.6 747.5 502.1 747.0 502.6 746.4 503.1 745.9 503.6 745.4 504.1 744.9 504.6 744.4 505.1 743.9 505.6 743.5 506.1 743.0 506.6 742.5 507.1 742.1 507.6 741.6 508.1 741.2 508.6 740.7 509.1 740.3 509.6 739.9 510.1 739.4 510.6 739.0 511.1 738.6 511.6 738.2 512.1 737.8 512.6 737.4 513.1 737.0 513.6 736.7 514.1 736.3 514.6 735.9 515.1 735.5 515.6 735.2 516.1 734.8 516.6 734.5 517.1 734.1 517.6 733.8 518.1 733.5 518.6 733.1 519.1 732.8 519.6 732.5 520.1 732.2 520.6 731.9 521.1 731.6 521.6 731.3 522.1 731.1 522.6 730.8 523.1 730.5 523.6 730.2 524.1 730.0 524.6 729.7 525.1 729.5 525.6 729.3 526.1 729.0 526.6 728.8 527.1 728.6 527.6 728.4 528.1 728.2 528.6 728.0 529.1 727.8 529.6 727.6 530.1 727.4 530.6 727.2 531.1 727.1 531.6 726.9 532.1 726.7 532.6 726.6 533.1 726.4 533.6 726.3 534.1 726.2 534.6 726.1 535.1 725.9 535.6 725.8 536.1 725.7 536.6 725.6 537.1 725.6 537.6 725.5 538.1 725.4 538.6 725.3 539.1 725.3 539.6 725.2 540.1 725.2 540.6 725.1 541.1 725.1 541.6 725.1 542.1 725.0 542.6 725.0 543.1 725.0 543.6 725.0 544.1 725.0 544.6 725.1 545.1 725.1 545.6 725.1 546.1 725.1 546.6 725.2 547.1 725.2 547.6 725.3 548.1 725.4 548.6 725.4 549.1 725.5 549.6 725.6 550.1 725.7 550.6 725.8 551.1 725.9 551.6 726.0 552.1 726.2 552.6 726.3 553.1 726.4 553.6 726.6 554.1 726.7 554.6 726.9 555.1 727.1 555.6 727.2 556.1 727.4 556.6 727.6 557.1 727.8 557.6 728.0 558.1 728.2 558.6 728.5 559.1 728.7 559.6 728.9 560.1 729.2 560.6 729.4 561.1 729.7 561.6 730.0 562.1 730.2 562.6 730.5 563.1 730.8 563.6 731.1 564.1 731.4 564.6 731.8 565.1 732.1 565.6 732.4 566.1 732.8 566.6 733.1 567.1 733.5 567.6 733.8 568.1 734.2 568.6 734.6 569.1 735.0 569.6 735.4 570.1 735.8 570.6 736.2 571.1 736.6 571.6 737.0 572.1 737.5 572.6 737.9 573.1 738.4 573.6 738.9 574.1 739.3 574.6 739.8 575.1 740.3 575.6 740.8 576.1 741.3 576.6 741.8 577.1 742.3 577.6 742.9 578.1 743.4 578.6 744.0 579.1 744.5 579.6 745.1 580.1 745.7 580.6 746.2 581.1 746.8 581.6 747.4 582.1 748.0 582.6 748.7 583.1 749.3 583.6 749.9 584.1 750.6 584.6 751.2 585.1 751.9 585.6 752.6 586.1 753.2 586.6 753.9 587.1 754.6 587.6 755.3 588.1 756.0 588.6 756.8 589.1 757.5 589.6 758.3 590.1 759.0 590.6 759.8 591.1 760.5 591.6 761.3 592.1 762.1 592.6 762.9 593.1 763.7 593.6 764.5 594.1 765.4 594.6 766.2 595.1 767.0 595.6 767.9 596.1 768.7 596.6 769.6 597.1 770.5 597.6 771.4 598.1 772.3 598.6 773.2"/>
<g font-family="Liberation Sans, sans-serif" fill="#000" stroke="#fff" stroke-width="0.12"><text x="116.08" y="45.70" font-size="14.11" textLength="478.84" lengthAdjust="spacingAndGlyphs" xml:space="preserve">RPS-B  Unidirectional, differential flux vs energy (Isotropic assumption)</text>
<text x="227.69" y="397.70" font-size="14.11" textLength="256.23" lengthAdjust="spacingAndGlyphs" xml:space="preserve">RPS  Dose rate in Dosimeter 1 (front)</text>
<text x="126.73" y="555.50" font-size="14.11" textLength="456.94" lengthAdjust="spacingAndGlyphs">Equatorial pitch angle of particle with 90 degree pitch angle in OPQ</text>
<text x="204.58" y="712.70" font-size="14.11" textLength="300.84" lengthAdjust="spacingAndGlyphs">McIlwain L of locally mirroring particle in OPQ</text>
<text x="68.58" y="99.00" font-size="14.11" textLength="18.39" lengthAdjust="spacingAndGlyphs">10</text><text x="86.97" y="91.90" font-size="14.11" textLength="9.20" lengthAdjust="spacingAndGlyphs">3</text>
<text x="68.58" y="303.00" font-size="14.11" textLength="18.39" lengthAdjust="spacingAndGlyphs">10</text><text x="86.97" y="295.90" font-size="14.11" textLength="9.20" lengthAdjust="spacingAndGlyphs">2</text>
<text x="63.70" y="427.00" font-size="14.11" textLength="18.39" lengthAdjust="spacingAndGlyphs">10</text><text x="82.09" y="419.90" font-size="14.11" textLength="14.41" lengthAdjust="spacingAndGlyphs">-3</text>
<text x="62.63" y="454.00" font-size="14.11" textLength="18.39" lengthAdjust="spacingAndGlyphs">10</text><text x="81.02" y="446.90" font-size="14.11" textLength="14.41" lengthAdjust="spacingAndGlyphs">-4</text>
<text x="63.70" y="481.00" font-size="14.11" textLength="18.39" lengthAdjust="spacingAndGlyphs">10</text><text x="82.09" y="473.90" font-size="14.11" textLength="14.41" lengthAdjust="spacingAndGlyphs">-5</text>
<text x="62.63" y="507.00" font-size="14.11" textLength="18.39" lengthAdjust="spacingAndGlyphs">10</text><text x="81.02" y="499.90" font-size="14.11" textLength="14.41" lengthAdjust="spacingAndGlyphs">-6</text>
<text x="75.20" y="675.40" font-size="14.11" textLength="21.48" lengthAdjust="spacingAndGlyphs">50.</text>
<text x="75.20" y="663.40" font-size="14.11" textLength="21.48" lengthAdjust="spacingAndGlyphs">55.</text>
<text x="75.20" y="650.40" font-size="14.11" textLength="21.48" lengthAdjust="spacingAndGlyphs">60.</text>
<text x="75.20" y="638.40" font-size="14.11" textLength="21.48" lengthAdjust="spacingAndGlyphs">65.</text>
<text x="75.20" y="625.40" font-size="14.11" textLength="21.48" lengthAdjust="spacingAndGlyphs">70.</text>
<text x="75.20" y="613.40" font-size="14.11" textLength="21.48" lengthAdjust="spacingAndGlyphs">75.</text>
<text x="75.20" y="601.40" font-size="14.11" textLength="21.48" lengthAdjust="spacingAndGlyphs">80.</text>
<text x="75.20" y="588.40" font-size="14.11" textLength="21.48" lengthAdjust="spacingAndGlyphs">85.</text>
<text x="75.20" y="576.40" font-size="14.11" textLength="21.48" lengthAdjust="spacingAndGlyphs">90.</text>
<text x="84.00" y="860.40" font-size="14.11" textLength="12.89" lengthAdjust="spacingAndGlyphs">1.</text>
<text x="84.00" y="836.40" font-size="14.11" textLength="12.89" lengthAdjust="spacingAndGlyphs">2.</text>
<text x="84.00" y="812.40" font-size="14.11" textLength="12.89" lengthAdjust="spacingAndGlyphs">3.</text>
<text x="84.00" y="788.40" font-size="14.11" textLength="12.89" lengthAdjust="spacingAndGlyphs">4.</text>
<text x="84.00" y="763.40" font-size="14.11" textLength="12.89" lengthAdjust="spacingAndGlyphs">5.</text>
<text x="84.00" y="739.40" font-size="14.11" textLength="12.89" lengthAdjust="spacingAndGlyphs">6.</text>
<text x="643.80" y="120.00" font-size="14.11" textLength="17.19" lengthAdjust="spacingAndGlyphs">10</text><text x="660.99" y="112.90" font-size="14.11" textLength="8.59" lengthAdjust="spacingAndGlyphs">2</text>
<text x="643.80" y="190.00" font-size="14.11" textLength="17.19" lengthAdjust="spacingAndGlyphs">10</text><text x="660.99" y="182.90" font-size="14.11" textLength="8.59" lengthAdjust="spacingAndGlyphs">0</text>
<text x="643.80" y="260.00" font-size="14.11" textLength="17.19" lengthAdjust="spacingAndGlyphs">10</text><text x="660.99" y="252.90" font-size="14.11" textLength="13.47" lengthAdjust="spacingAndGlyphs">-2</text>
<text x="643.80" y="330.00" font-size="14.11" textLength="17.19" lengthAdjust="spacingAndGlyphs">10</text><text x="660.99" y="322.90" font-size="14.11" textLength="13.47" lengthAdjust="spacingAndGlyphs">-4</text>
<g transform="rotate(-90)"><text x="-264.48" y="55.20" font-size="14.11" textLength="32.10" lengthAdjust="spacingAndGlyphs">FPDI</text><text x="-232.38" y="59.10" font-size="9.40" textLength="33.41" lengthAdjust="spacingAndGlyphs">Energy</text><text x="-198.98" y="55.20" font-size="14.11" textLength="46.66" lengthAdjust="spacingAndGlyphs" xml:space="preserve"> (MeV)</text></g>
<g transform="rotate(-90)"><text x="-495.74" y="52.00" font-size="14.11" textLength="70.28" lengthAdjust="spacingAndGlyphs">(rads/sec)</text></g>
<g transform="rotate(-90)"><text x="-654.12" y="56.40" font-size="14.11" textLength="9.31" lengthAdjust="spacingAndGlyphs">α</text><text x="-644.82" y="63.40" font-size="14.11" textLength="17.86" lengthAdjust="spacingAndGlyphs">Eq</text><text x="-626.95" y="56.40" font-size="14.11" textLength="42.08" lengthAdjust="spacingAndGlyphs" xml:space="preserve"> (deg)</text></g>
<g transform="rotate(-90)"><text x="-813.12" y="65.70" font-size="14.11" textLength="26.45" lengthAdjust="spacingAndGlyphs">L (R</text><text x="-786.67" y="73.00" font-size="14.11" textLength="8.53" lengthAdjust="spacingAndGlyphs">E</text><text x="-778.14" y="65.70" font-size="14.11" textLength="5.27" lengthAdjust="spacingAndGlyphs">)</text></g>
<g transform="rotate(90)"><text x="120.51" y="-686.30" font-size="14.63" textLength="169.98" lengthAdjust="spacingAndGlyphs">FPDI (#/cm^2/s/sr/MeV)</text></g>
<text x="92.85" y="890.70" font-size="14.11" textLength="40.87" lengthAdjust="spacingAndGlyphs">00:00</text>
<text x="213.85" y="890.70" font-size="14.11" textLength="40.87" lengthAdjust="spacingAndGlyphs">06:00</text>
<text x="335.85" y="890.70" font-size="14.11" textLength="40.87" lengthAdjust="spacingAndGlyphs">12:00</text>
<text x="457.85" y="890.70" font-size="14.11" textLength="40.87" lengthAdjust="spacingAndGlyphs">18:00</text>
<text x="579.85" y="890.70" font-size="14.11" textLength="40.87" lengthAdjust="spacingAndGlyphs">00:00</text>
<text x="92.85" y="907.70" font-size="14.11" textLength="40.61" lengthAdjust="spacingAndGlyphs">3.812</text>
<text x="213.85" y="907.70" font-size="14.11" textLength="40.61" lengthAdjust="spacingAndGlyphs">3.822</text>
<text x="335.85" y="907.70" font-size="14.11" textLength="40.61" lengthAdjust="spacingAndGlyphs">5.803</text>
<text x="457.85" y="907.70" font-size="14.11" textLength="40.61" lengthAdjust="spacingAndGlyphs">3.729</text>
<text x="579.85" y="907.70" font-size="14.11" textLength="40.61" lengthAdjust="spacingAndGlyphs">3.903</text>
<text x="87.60" y="924.40" font-size="14.11" textLength="45.72" lengthAdjust="spacingAndGlyphs">-6.993</text>
<text x="200.20" y="924.40" font-size="14.11" textLength="54.75" lengthAdjust="spacingAndGlyphs">-13.700</text>
<text x="335.85" y="924.40" font-size="14.11" textLength="40.61" lengthAdjust="spacingAndGlyphs">1.710</text>
<text x="444.20" y="924.40" font-size="14.11" textLength="54.75" lengthAdjust="spacingAndGlyphs">-10.070</text>
<text x="566.20" y="924.40" font-size="14.11" textLength="54.75" lengthAdjust="spacingAndGlyphs">-18.910</text>
<text x="92.85" y="941.40" font-size="14.11" textLength="40.61" lengthAdjust="spacingAndGlyphs">3.397</text>
<text x="213.85" y="941.40" font-size="14.11" textLength="40.61" lengthAdjust="spacingAndGlyphs">8.989</text>
<text x="335.85" y="941.40" font-size="14.11" textLength="40.61" lengthAdjust="spacingAndGlyphs">6.394</text>
<text x="457.85" y="941.40" font-size="14.11" textLength="40.61" lengthAdjust="spacingAndGlyphs">3.480</text>
<text x="579.85" y="941.40" font-size="14.11" textLength="40.61" lengthAdjust="spacingAndGlyphs">8.824</text>
<text x="92.85" y="958.10" font-size="14.11" textLength="40.61" lengthAdjust="spacingAndGlyphs">3.869</text>
<text x="213.85" y="958.10" font-size="14.11" textLength="40.61" lengthAdjust="spacingAndGlyphs">4.050</text>
<text x="335.85" y="958.10" font-size="14.11" textLength="40.61" lengthAdjust="spacingAndGlyphs">5.809</text>
<text x="457.85" y="958.10" font-size="14.11" textLength="40.61" lengthAdjust="spacingAndGlyphs">3.846</text>
<text x="579.85" y="958.10" font-size="14.11" textLength="40.61" lengthAdjust="spacingAndGlyphs">4.361</text>
<text x="55.60" y="905.60" font-size="14.11" textLength="9.38" lengthAdjust="spacingAndGlyphs">R</text><text x="66.20" y="909.70" font-size="9.40" textLength="5.69" lengthAdjust="spacingAndGlyphs">E</text>
<text x="40.40" y="924.40" font-size="14.11" textLength="32.72" lengthAdjust="spacingAndGlyphs">MLat</text>
<text x="46.90" y="941.40" font-size="14.11" textLength="25.55" lengthAdjust="spacingAndGlyphs">MLT</text>
<text x="65.50" y="958.10" font-size="14.11" textLength="7.52" lengthAdjust="spacingAndGlyphs">L</text>
<text x="293.35" y="978.80" font-size="14.11" textLength="125.30" lengthAdjust="spacingAndGlyphs">2012-10-27 (301)</text></g>
</svg></body></html>
